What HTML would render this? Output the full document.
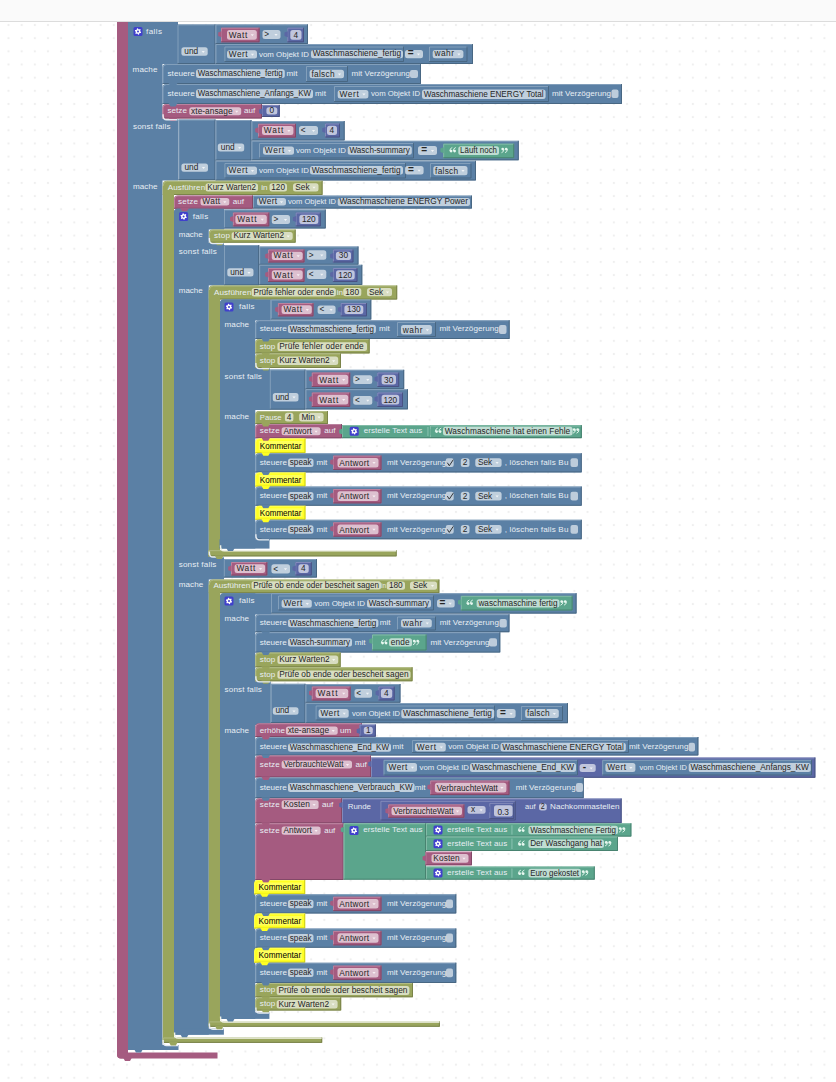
<!DOCTYPE html>
<html><head><meta charset="utf-8"><style>
html,body{margin:0;padding:0;background:#fff;overflow:hidden}
body{width:836px;height:1082px;position:relative}
svg{position:absolute;left:0;top:0}
text{font-family:"Liberation Sans",sans-serif}
</style></head><body>
<svg width="836" height="1082" viewBox="0 0 836 1082">
<defs><pattern id="dots" x="1.92" y="18.42" width="13.16" height="13.16" patternUnits="userSpaceOnUse"><rect x="5.58" y="5.58" width="2" height="2" fill="#efefef"/></pattern></defs>
<rect width="836" height="1082" fill="#fff"/>
<rect y="21" width="836" height="1061" fill="url(#dots)"/>
<path d="M117.0 0.0H128.0V1058.5H121.0Q117.0 1058.5 117.0 1054.5Z" fill="#a55b80"/>
<path d="M117.0 1052.5H217.5V1058.5H121.0Q117.0 1058.5 117.0 1054.5Z" fill="#a55b80"/>
<rect x="128.0" y="0.0" width="34.5" height="1050.0" fill="#5b80a5"/>
<rect x="128.0" y="0.0" width="50.0" height="64.0" fill="#5b80a5"/>
<rect x="128.0" y="119.0" width="50.0" height="61.5" fill="#5b80a5"/>
<rect x="128.0" y="1045.0" width="50.5" height="5.0" fill="#5b80a5"/>
<rect x="177.5" y="24.4" width="38.0" height="39.6" fill="#5b80a5"/>
<path d="M178.0 64.0V24.9H215.5" stroke="#8ca6c0" stroke-width="1" fill="none" opacity="0.8"/>
<path d="M177.5 63.5H215.0V24.4" stroke="#44607b" stroke-width="1" fill="none" opacity="0.8"/>
<rect x="215.5" y="24.4" width="92.5" height="19.6" fill="#5b80a5"/>
<path d="M216.0 44.0V24.9H308.0" stroke="#8ca6c0" stroke-width="1" fill="none" opacity="0.8"/>
<path d="M215.5 43.5H307.5V24.4" stroke="#44607b" stroke-width="1" fill="none" opacity="0.8"/>
<rect x="221.0" y="27.7" width="38.6" height="14.6" fill="#a55b80"/>
<path d="M221.5 42.3V28.2H259.6" stroke="#c08ca6" stroke-width="1" fill="none" opacity="0.8"/>
<path d="M221.0 41.8H259.1V27.7" stroke="#7b4460" stroke-width="1" fill="none" opacity="0.8"/>
<rect x="287.3" y="27.7" width="16.7" height="14.6" fill="#5b67a5"/>
<path d="M287.8 42.3V28.2H304.0" stroke="#8c94c0" stroke-width="1" fill="none" opacity="0.8"/>
<path d="M287.3 41.8H303.5V27.7" stroke="#444d7b" stroke-width="1" fill="none" opacity="0.8"/>
<rect x="215.5" y="44.0" width="257.5" height="20.0" fill="#5b80a5"/>
<path d="M216.0 64.0V44.5H473.0" stroke="#8ca6c0" stroke-width="1" fill="none" opacity="0.8"/>
<path d="M215.5 63.5H472.5V44.0" stroke="#44607b" stroke-width="1" fill="none" opacity="0.8"/>
<rect x="224.4" y="46.5" width="179.6" height="15.5" fill="#5b80a5"/>
<path d="M224.9 62.0V47.0H404.0" stroke="#8ca6c0" stroke-width="1" fill="none" opacity="0.8"/>
<path d="M224.4 61.5H403.5V46.5" stroke="#44607b" stroke-width="1" fill="none" opacity="0.8"/>
<rect x="429.0" y="46.5" width="38.5" height="15.5" fill="#5b80a5"/>
<path d="M429.5 62.0V47.0H467.5" stroke="#8ca6c0" stroke-width="1" fill="none" opacity="0.8"/>
<path d="M429.0 61.5H467.0V46.5" stroke="#44607b" stroke-width="1" fill="none" opacity="0.8"/>
<path d="M162.5 67.5Q162.5 64.0 166.0 64.0H421.0V84.0H162.5Z" fill="#5b80a5"/>
<path d="M163.0 84.0V68.0Q163.0 64.5 166.5 64.5H421.0" stroke="#8ca6c0" stroke-width="1" fill="none" opacity="0.8"/>
<path d="M162.5 83.5H420.5V64.0" stroke="#44607b" stroke-width="1" fill="none" opacity="0.8"/>
<rect x="306.0" y="66.0" width="42.0" height="16.0" fill="#5b80a5"/>
<path d="M306.5 82.0V66.5H348.0" stroke="#8ca6c0" stroke-width="1" fill="none" opacity="0.8"/>
<path d="M306.0 81.5H347.5V66.0" stroke="#44607b" stroke-width="1" fill="none" opacity="0.8"/>
<path d="M162.5 87.5Q162.5 84.0 166.0 84.0H622.0V104.0H162.5Z" fill="#5b80a5"/>
<path d="M163.0 104.0V88.0Q163.0 84.5 166.5 84.5H622.0" stroke="#8ca6c0" stroke-width="1" fill="none" opacity="0.8"/>
<path d="M162.5 103.5H621.5V84.0" stroke="#44607b" stroke-width="1" fill="none" opacity="0.8"/>
<rect x="334.0" y="86.0" width="215.0" height="16.0" fill="#5b80a5"/>
<path d="M334.5 102.0V86.5H549.0" stroke="#8ca6c0" stroke-width="1" fill="none" opacity="0.8"/>
<path d="M334.0 101.5H548.5V86.0" stroke="#44607b" stroke-width="1" fill="none" opacity="0.8"/>
<path d="M162.5 107.5Q162.5 104.0 166.0 104.0H262.0V118.5H162.5Z" fill="#a55b80"/>
<path d="M163.0 118.5V108.0Q163.0 104.5 166.5 104.5H262.0" stroke="#c08ca6" stroke-width="1" fill="none" opacity="0.8"/>
<path d="M162.5 118.0H261.5V104.0" stroke="#7b4460" stroke-width="1" fill="none" opacity="0.8"/>
<rect x="262.0" y="104.9" width="17.8" height="12.1" fill="#5b67a5"/>
<path d="M262.5 117.0V105.4H279.8" stroke="#8c94c0" stroke-width="1" fill="none" opacity="0.8"/>
<path d="M262.0 116.5H279.3V104.9" stroke="#444d7b" stroke-width="1" fill="none" opacity="0.8"/>
<rect x="178.4" y="119.5" width="37.1" height="60.7" fill="#5b80a5"/>
<path d="M178.9 180.2V120.0H215.5" stroke="#8ca6c0" stroke-width="1" fill="none" opacity="0.8"/>
<path d="M178.4 179.7H215.0V119.5" stroke="#44607b" stroke-width="1" fill="none" opacity="0.8"/>
<rect x="215.5" y="120.0" width="36.0" height="40.5" fill="#5b80a5"/>
<path d="M216.0 160.5V120.5H251.5" stroke="#8ca6c0" stroke-width="1" fill="none" opacity="0.8"/>
<path d="M215.5 160.0H251.0V120.0" stroke="#44607b" stroke-width="1" fill="none" opacity="0.8"/>
<rect x="251.5" y="121.0" width="93.2" height="19.5" fill="#5b80a5"/>
<path d="M252.0 140.5V121.5H344.7" stroke="#8ca6c0" stroke-width="1" fill="none" opacity="0.8"/>
<path d="M251.5 140.0H344.2V121.0" stroke="#44607b" stroke-width="1" fill="none" opacity="0.8"/>
<rect x="258.0" y="123.8" width="38.0" height="13.8" fill="#a55b80"/>
<path d="M258.5 137.6V124.3H296.0" stroke="#c08ca6" stroke-width="1" fill="none" opacity="0.8"/>
<path d="M258.0 137.1H295.5V123.8" stroke="#7b4460" stroke-width="1" fill="none" opacity="0.8"/>
<rect x="325.0" y="123.5" width="15.0" height="14.0" fill="#5b67a5"/>
<path d="M325.5 137.5V124.0H340.0" stroke="#8c94c0" stroke-width="1" fill="none" opacity="0.8"/>
<path d="M325.0 137.0H339.5V123.5" stroke="#444d7b" stroke-width="1" fill="none" opacity="0.8"/>
<rect x="251.5" y="140.8" width="267.3" height="19.5" fill="#5b80a5"/>
<path d="M252.0 160.3V141.3H518.8" stroke="#8ca6c0" stroke-width="1" fill="none" opacity="0.8"/>
<path d="M251.5 159.8H518.3V140.8" stroke="#44607b" stroke-width="1" fill="none" opacity="0.8"/>
<rect x="259.0" y="143.0" width="155.0" height="15.5" fill="#5b80a5"/>
<path d="M259.5 158.5V143.5H414.0" stroke="#8ca6c0" stroke-width="1" fill="none" opacity="0.8"/>
<path d="M259.0 158.0H413.5V143.0" stroke="#44607b" stroke-width="1" fill="none" opacity="0.8"/>
<rect x="443.2" y="143.7" width="71.0" height="14.5" fill="#5ba58c"/>
<path d="M443.7 158.2V144.2H514.2" stroke="#8cc0ae" stroke-width="1" fill="none" opacity="0.8"/>
<path d="M443.2 157.7H513.7V143.7" stroke="#447b69" stroke-width="1" fill="none" opacity="0.8"/>
<rect x="215.5" y="160.8" width="260.5" height="19.7" fill="#5b80a5"/>
<path d="M216.0 180.5V161.3H476.0" stroke="#8ca6c0" stroke-width="1" fill="none" opacity="0.8"/>
<path d="M215.5 180.0H475.5V160.8" stroke="#44607b" stroke-width="1" fill="none" opacity="0.8"/>
<rect x="224.4" y="163.0" width="181.6" height="15.5" fill="#5b80a5"/>
<path d="M224.9 178.5V163.5H406.0" stroke="#8ca6c0" stroke-width="1" fill="none" opacity="0.8"/>
<path d="M224.4 178.0H405.5V163.0" stroke="#44607b" stroke-width="1" fill="none" opacity="0.8"/>
<rect x="430.0" y="163.0" width="41.5" height="15.5" fill="#5b80a5"/>
<path d="M430.5 178.5V163.5H471.5" stroke="#8ca6c0" stroke-width="1" fill="none" opacity="0.8"/>
<path d="M430.0 178.0H471.0V163.0" stroke="#44607b" stroke-width="1" fill="none" opacity="0.8"/>
<path d="M162.8 184.8Q162.8 180.8 166.8 180.8H322.6V195.0H162.8Z" fill="#99a55c"/>
<path d="M163.3 195.0V185.3Q163.3 181.3 167.3 181.3H322.6" stroke="#b7c08c" stroke-width="1" fill="none" opacity="0.8"/>
<path d="M162.8 194.5H322.1V180.8" stroke="#727b45" stroke-width="1" fill="none" opacity="0.8"/>
<rect x="162.8" y="186.0" width="11.2" height="856.9" fill="#99a55c"/>
<rect x="162.8" y="1037.5" width="159.4" height="5.4" fill="#99a55c"/>
<path d="M163.3 1042.9V1038.0H322.2" stroke="#b7c08c" stroke-width="1" fill="none" opacity="0.8"/>
<path d="M162.8 1042.4H321.7V1037.5" stroke="#727b45" stroke-width="1" fill="none" opacity="0.8"/>
<path d="M174.0 198.9Q174.0 195.4 177.5 195.4H253.0V208.8H174.0Z" fill="#a55b80"/>
<path d="M174.5 208.8V199.4Q174.5 195.9 178.0 195.9H253.0" stroke="#c08ca6" stroke-width="1" fill="none" opacity="0.8"/>
<path d="M174.0 208.3H252.5V195.4" stroke="#7b4460" stroke-width="1" fill="none" opacity="0.8"/>
<rect x="253.0" y="195.6" width="219.0" height="13.0" fill="#5b80a5"/>
<path d="M253.5 208.6V196.1H472.0" stroke="#8ca6c0" stroke-width="1" fill="none" opacity="0.8"/>
<path d="M253.0 208.1H471.5V195.6" stroke="#44607b" stroke-width="1" fill="none" opacity="0.8"/>
<path d="M174.0 212.3Q174.0 208.8 177.5 208.8H208.8V1034.7H174.0Z" fill="#5b80a5"/>
<path d="M174.0 212.3Q174.0 208.8 177.5 208.8H224.0V229.5H174.0Z" fill="#5b80a5"/>
<rect x="174.0" y="243.0" width="50.0" height="42.4" fill="#5b80a5"/>
<rect x="174.0" y="556.4" width="50.0" height="23.1" fill="#5b80a5"/>
<rect x="174.0" y="1028.6" width="49.9" height="6.1" fill="#5b80a5"/>
<rect x="224.0" y="209.5" width="101.8" height="19.0" fill="#5b80a5"/>
<path d="M224.5 228.5V210.0H325.8" stroke="#8ca6c0" stroke-width="1" fill="none" opacity="0.8"/>
<path d="M224.0 228.0H325.3V209.5" stroke="#44607b" stroke-width="1" fill="none" opacity="0.8"/>
<rect x="232.9" y="212.5" width="36.4" height="13.9" fill="#a55b80"/>
<path d="M233.4 226.4V213.0H269.3" stroke="#c08ca6" stroke-width="1" fill="none" opacity="0.8"/>
<path d="M232.9 225.9H268.8V212.5" stroke="#7b4460" stroke-width="1" fill="none" opacity="0.8"/>
<rect x="295.7" y="212.5" width="25.1" height="13.9" fill="#5b67a5"/>
<path d="M296.2 226.4V213.0H320.8" stroke="#8c94c0" stroke-width="1" fill="none" opacity="0.8"/>
<path d="M295.7 225.9H320.3V212.5" stroke="#444d7b" stroke-width="1" fill="none" opacity="0.8"/>
<path d="M209.0 233.1Q209.0 229.6 212.5 229.6H295.7V242.7H209.0Z" fill="#99a55c"/>
<path d="M209.5 242.7V233.6Q209.5 230.1 213.0 230.1H295.7" stroke="#b7c08c" stroke-width="1" fill="none" opacity="0.8"/>
<path d="M209.0 242.2H295.2V229.6" stroke="#727b45" stroke-width="1" fill="none" opacity="0.8"/>
<rect x="224.0" y="245.0" width="35.2" height="40.4" fill="#5b80a5"/>
<path d="M224.5 285.4V245.5H259.2" stroke="#8ca6c0" stroke-width="1" fill="none" opacity="0.8"/>
<path d="M224.0 284.9H258.7V245.0" stroke="#44607b" stroke-width="1" fill="none" opacity="0.8"/>
<rect x="259.2" y="246.5" width="99.3" height="18.3" fill="#5b80a5"/>
<path d="M259.7 264.8V247.0H358.5" stroke="#8ca6c0" stroke-width="1" fill="none" opacity="0.8"/>
<path d="M259.2 264.3H358.0V246.5" stroke="#44607b" stroke-width="1" fill="none" opacity="0.8"/>
<rect x="268.0" y="249.5" width="36.5" height="13.0" fill="#a55b80"/>
<path d="M268.5 262.5V250.0H304.5" stroke="#c08ca6" stroke-width="1" fill="none" opacity="0.8"/>
<path d="M268.0 262.0H304.0V249.5" stroke="#7b4460" stroke-width="1" fill="none" opacity="0.8"/>
<rect x="332.9" y="249.5" width="20.6" height="13.0" fill="#5b67a5"/>
<path d="M333.4 262.5V250.0H353.5" stroke="#8c94c0" stroke-width="1" fill="none" opacity="0.8"/>
<path d="M332.9 262.0H353.0V249.5" stroke="#444d7b" stroke-width="1" fill="none" opacity="0.8"/>
<rect x="259.2" y="264.8" width="103.1" height="20.2" fill="#5b80a5"/>
<path d="M259.7 285.0V265.3H362.3" stroke="#8ca6c0" stroke-width="1" fill="none" opacity="0.8"/>
<path d="M259.2 284.5H361.8V264.8" stroke="#44607b" stroke-width="1" fill="none" opacity="0.8"/>
<rect x="268.0" y="268.0" width="36.5" height="14.0" fill="#a55b80"/>
<path d="M268.5 282.0V268.5H304.5" stroke="#c08ca6" stroke-width="1" fill="none" opacity="0.8"/>
<path d="M268.0 281.5H304.0V268.0" stroke="#7b4460" stroke-width="1" fill="none" opacity="0.8"/>
<rect x="332.9" y="268.0" width="24.6" height="14.0" fill="#5b67a5"/>
<path d="M333.4 282.0V268.5H357.5" stroke="#8c94c0" stroke-width="1" fill="none" opacity="0.8"/>
<path d="M332.9 281.5H357.0V268.0" stroke="#444d7b" stroke-width="1" fill="none" opacity="0.8"/>
<path d="M208.8 289.5Q208.8 285.5 212.8 285.5H397.2V299.6H208.8Z" fill="#99a55c"/>
<path d="M209.3 299.6V290.0Q209.3 286.0 213.3 286.0H397.2" stroke="#b7c08c" stroke-width="1" fill="none" opacity="0.8"/>
<path d="M208.8 299.1H396.7V285.5" stroke="#727b45" stroke-width="1" fill="none" opacity="0.8"/>
<rect x="208.8" y="290.0" width="11.2" height="266.4" fill="#99a55c"/>
<rect x="208.2" y="550.2" width="188.5" height="6.2" fill="#99a55c"/>
<path d="M208.7 556.4V550.7H396.7" stroke="#b7c08c" stroke-width="1" fill="none" opacity="0.8"/>
<path d="M208.2 555.9H396.2V550.2" stroke="#727b45" stroke-width="1" fill="none" opacity="0.8"/>
<path d="M220.0 303.1Q220.0 299.6 223.5 299.6H255.3V548.6H220.0Z" fill="#5b80a5"/>
<path d="M220.0 303.1Q220.0 299.6 223.5 299.6H270.8V320.5H220.0Z" fill="#5b80a5"/>
<rect x="220.0" y="368.0" width="50.0" height="42.0" fill="#5b80a5"/>
<rect x="219.5" y="539.3" width="50.0" height="9.3" fill="#5b80a5"/>
<rect x="270.8" y="299.6" width="100.5" height="20.0" fill="#5b80a5"/>
<path d="M271.3 319.6V300.1H371.3" stroke="#8ca6c0" stroke-width="1" fill="none" opacity="0.8"/>
<path d="M270.8 319.1H370.8V299.6" stroke="#44607b" stroke-width="1" fill="none" opacity="0.8"/>
<rect x="277.9" y="303.0" width="35.6" height="13.4" fill="#a55b80"/>
<path d="M278.4 316.4V303.5H313.5" stroke="#c08ca6" stroke-width="1" fill="none" opacity="0.8"/>
<path d="M277.9 315.9H313.0V303.0" stroke="#7b4460" stroke-width="1" fill="none" opacity="0.8"/>
<rect x="340.7" y="303.0" width="26.3" height="13.4" fill="#5b67a5"/>
<path d="M341.2 316.4V303.5H367.0" stroke="#8c94c0" stroke-width="1" fill="none" opacity="0.8"/>
<path d="M340.7 315.9H366.5V303.0" stroke="#444d7b" stroke-width="1" fill="none" opacity="0.8"/>
<path d="M255.3 323.7Q255.3 320.2 258.8 320.2H509.7V339.0H255.3Z" fill="#5b80a5"/>
<path d="M255.8 339.0V324.2Q255.8 320.7 259.3 320.7H509.7" stroke="#8ca6c0" stroke-width="1" fill="none" opacity="0.8"/>
<path d="M255.3 338.5H509.2V320.2" stroke="#44607b" stroke-width="1" fill="none" opacity="0.8"/>
<rect x="397.0" y="322.0" width="39.0" height="15.0" fill="#5b80a5"/>
<path d="M397.5 337.0V322.5H436.0" stroke="#8ca6c0" stroke-width="1" fill="none" opacity="0.8"/>
<path d="M397.0 336.5H435.5V322.0" stroke="#44607b" stroke-width="1" fill="none" opacity="0.8"/>
<path d="M255.3 342.5Q255.3 339.0 258.8 339.0H369.7V353.4H255.3Z" fill="#99a55c"/>
<path d="M255.8 353.4V343.0Q255.8 339.5 259.3 339.5H369.7" stroke="#b7c08c" stroke-width="1" fill="none" opacity="0.8"/>
<path d="M255.3 352.9H369.2V339.0" stroke="#727b45" stroke-width="1" fill="none" opacity="0.8"/>
<path d="M255.3 356.9Q255.3 353.4 258.8 353.4H341.0V368.0H255.3Z" fill="#99a55c"/>
<path d="M255.8 368.0V357.4Q255.8 353.9 259.3 353.9H341.0" stroke="#b7c08c" stroke-width="1" fill="none" opacity="0.8"/>
<path d="M255.3 367.5H340.5V353.4" stroke="#727b45" stroke-width="1" fill="none" opacity="0.8"/>
<rect x="269.8" y="369.5" width="35.7" height="40.2" fill="#5b80a5"/>
<path d="M270.3 409.7V370.0H305.5" stroke="#8ca6c0" stroke-width="1" fill="none" opacity="0.8"/>
<path d="M269.8 409.2H305.0V369.5" stroke="#44607b" stroke-width="1" fill="none" opacity="0.8"/>
<rect x="305.5" y="369.8" width="98.7" height="19.4" fill="#5b80a5"/>
<path d="M306.0 389.2V370.3H404.2" stroke="#8ca6c0" stroke-width="1" fill="none" opacity="0.8"/>
<path d="M305.5 388.7H403.7V369.8" stroke="#44607b" stroke-width="1" fill="none" opacity="0.8"/>
<rect x="311.8" y="372.5" width="38.4" height="14.5" fill="#a55b80"/>
<path d="M312.3 387.0V373.0H350.2" stroke="#c08ca6" stroke-width="1" fill="none" opacity="0.8"/>
<path d="M311.8 386.5H349.7V372.5" stroke="#7b4460" stroke-width="1" fill="none" opacity="0.8"/>
<rect x="377.3" y="372.5" width="21.9" height="14.5" fill="#5b67a5"/>
<path d="M377.8 387.0V373.0H399.2" stroke="#8c94c0" stroke-width="1" fill="none" opacity="0.8"/>
<path d="M377.3 386.5H398.7V372.5" stroke="#444d7b" stroke-width="1" fill="none" opacity="0.8"/>
<rect x="305.5" y="389.2" width="102.5" height="20.2" fill="#5b80a5"/>
<path d="M306.0 409.4V389.7H408.0" stroke="#8ca6c0" stroke-width="1" fill="none" opacity="0.8"/>
<path d="M305.5 408.9H407.5V389.2" stroke="#44607b" stroke-width="1" fill="none" opacity="0.8"/>
<rect x="311.8" y="392.5" width="38.4" height="14.5" fill="#a55b80"/>
<path d="M312.3 407.0V393.0H350.2" stroke="#c08ca6" stroke-width="1" fill="none" opacity="0.8"/>
<path d="M311.8 406.5H349.7V392.5" stroke="#7b4460" stroke-width="1" fill="none" opacity="0.8"/>
<rect x="377.3" y="392.5" width="25.7" height="14.5" fill="#5b67a5"/>
<path d="M377.8 407.0V393.0H403.0" stroke="#8c94c0" stroke-width="1" fill="none" opacity="0.8"/>
<path d="M377.3 406.5H402.5V392.5" stroke="#444d7b" stroke-width="1" fill="none" opacity="0.8"/>
<path d="M255.3 414.5Q255.3 411.0 258.8 411.0H328.0V424.0H255.3Z" fill="#99a55c"/>
<path d="M255.8 424.0V415.0Q255.8 411.5 259.3 411.5H328.0" stroke="#b7c08c" stroke-width="1" fill="none" opacity="0.8"/>
<path d="M255.3 423.5H327.5V411.0" stroke="#727b45" stroke-width="1" fill="none" opacity="0.8"/>
<path d="M255.3 427.5Q255.3 424.0 258.8 424.0H342.0V438.3H255.3Z" fill="#a55b80"/>
<path d="M255.8 438.3V428.0Q255.8 424.5 259.3 424.5H342.0" stroke="#c08ca6" stroke-width="1" fill="none" opacity="0.8"/>
<path d="M255.3 437.8H341.5V424.0" stroke="#7b4460" stroke-width="1" fill="none" opacity="0.8"/>
<rect x="342.0" y="425.0" width="239.8" height="13.2" fill="#5ba58c"/>
<path d="M342.5 438.2V425.5H581.8" stroke="#8cc0ae" stroke-width="1" fill="none" opacity="0.8"/>
<path d="M342.0 437.7H581.3V425.0" stroke="#447b69" stroke-width="1" fill="none" opacity="0.8"/>
<rect x="430.0" y="425.5" width="151.8" height="12.5" fill="#5ba58c"/>
<path d="M430.5 438.0V426.0H581.8" stroke="#8cc0ae" stroke-width="1" fill="none" opacity="0.8"/>
<path d="M430.0 437.5H581.3V425.5" stroke="#447b69" stroke-width="1" fill="none" opacity="0.8"/>
<path d="M255.3 441.9Q255.3 438.4 258.8 438.4H305.5V453.2H255.3Z" fill="#ffff22"/>
<path d="M255.8 453.2V442.4Q255.8 438.9 259.3 438.9H305.5" stroke="#ffff64" stroke-width="1" fill="none" opacity="0.8"/>
<path d="M255.3 452.7H305.0V438.4" stroke="#bfbf19" stroke-width="1" fill="none" opacity="0.8"/>
<path d="M255.3 456.7Q255.3 453.2 258.8 453.2H581.8V472.4H255.3Z" fill="#5b80a5"/>
<path d="M255.8 472.4V457.2Q255.8 453.7 259.3 453.7H581.8" stroke="#8ca6c0" stroke-width="1" fill="none" opacity="0.8"/>
<path d="M255.3 471.9H581.3V453.2" stroke="#44607b" stroke-width="1" fill="none" opacity="0.8"/>
<rect x="333.0" y="455.6" width="48.5" height="14.4" fill="#a55b80"/>
<path d="M333.5 470.0V456.1H381.5" stroke="#c08ca6" stroke-width="1" fill="none" opacity="0.8"/>
<path d="M333.0 469.5H381.0V455.6" stroke="#7b4460" stroke-width="1" fill="none" opacity="0.8"/>
<path d="M255.3 475.9Q255.3 472.4 258.8 472.4H305.5V486.6H255.3Z" fill="#ffff22"/>
<path d="M255.8 486.6V476.4Q255.8 472.9 259.3 472.9H305.5" stroke="#ffff64" stroke-width="1" fill="none" opacity="0.8"/>
<path d="M255.3 486.1H305.0V472.4" stroke="#bfbf19" stroke-width="1" fill="none" opacity="0.8"/>
<path d="M255.3 490.1Q255.3 486.6 258.8 486.6H581.8V505.8H255.3Z" fill="#5b80a5"/>
<path d="M255.8 505.8V490.6Q255.8 487.1 259.3 487.1H581.8" stroke="#8ca6c0" stroke-width="1" fill="none" opacity="0.8"/>
<path d="M255.3 505.3H581.3V486.6" stroke="#44607b" stroke-width="1" fill="none" opacity="0.8"/>
<rect x="333.0" y="489.0" width="48.5" height="14.4" fill="#a55b80"/>
<path d="M333.5 503.4V489.5H381.5" stroke="#c08ca6" stroke-width="1" fill="none" opacity="0.8"/>
<path d="M333.0 502.9H381.0V489.0" stroke="#7b4460" stroke-width="1" fill="none" opacity="0.8"/>
<path d="M255.3 509.3Q255.3 505.8 258.8 505.8H305.5V519.8H255.3Z" fill="#ffff22"/>
<path d="M255.8 519.8V509.8Q255.8 506.3 259.3 506.3H305.5" stroke="#ffff64" stroke-width="1" fill="none" opacity="0.8"/>
<path d="M255.3 519.3H305.0V505.8" stroke="#bfbf19" stroke-width="1" fill="none" opacity="0.8"/>
<path d="M255.3 523.3Q255.3 519.8 258.8 519.8H581.8V539.3H255.3Z" fill="#5b80a5"/>
<path d="M255.8 539.3V523.8Q255.8 520.3 259.3 520.3H581.8" stroke="#8ca6c0" stroke-width="1" fill="none" opacity="0.8"/>
<path d="M255.3 538.8H581.3V519.8" stroke="#44607b" stroke-width="1" fill="none" opacity="0.8"/>
<rect x="333.0" y="522.3" width="48.5" height="14.4" fill="#a55b80"/>
<path d="M333.5 536.8V522.8H381.5" stroke="#c08ca6" stroke-width="1" fill="none" opacity="0.8"/>
<path d="M333.0 536.2H381.0V522.3" stroke="#7b4460" stroke-width="1" fill="none" opacity="0.8"/>
<rect x="223.8" y="559.0" width="93.2" height="18.6" fill="#5b80a5"/>
<path d="M224.3 577.6V559.5H317.0" stroke="#8ca6c0" stroke-width="1" fill="none" opacity="0.8"/>
<path d="M223.8 577.1H316.5V559.0" stroke="#44607b" stroke-width="1" fill="none" opacity="0.8"/>
<rect x="231.0" y="562.0" width="36.3" height="13.5" fill="#a55b80"/>
<path d="M231.5 575.5V562.5H267.3" stroke="#c08ca6" stroke-width="1" fill="none" opacity="0.8"/>
<path d="M231.0 575.0H266.8V562.0" stroke="#7b4460" stroke-width="1" fill="none" opacity="0.8"/>
<rect x="295.3" y="562.0" width="16.5" height="13.5" fill="#5b67a5"/>
<path d="M295.8 575.5V562.5H311.8" stroke="#8c94c0" stroke-width="1" fill="none" opacity="0.8"/>
<path d="M295.3 575.0H311.3V562.0" stroke="#444d7b" stroke-width="1" fill="none" opacity="0.8"/>
<path d="M208.8 583.6Q208.8 579.6 212.8 579.6H439.4V593.2H208.8Z" fill="#99a55c"/>
<path d="M209.3 593.2V584.1Q209.3 580.1 213.3 580.1H439.4" stroke="#b7c08c" stroke-width="1" fill="none" opacity="0.8"/>
<path d="M208.8 592.7H438.9V579.6" stroke="#727b45" stroke-width="1" fill="none" opacity="0.8"/>
<rect x="208.8" y="585.0" width="11.2" height="441.8" fill="#99a55c"/>
<rect x="208.8" y="1021.4" width="231.1" height="5.4" fill="#99a55c"/>
<path d="M209.3 1026.8V1021.9H439.9" stroke="#b7c08c" stroke-width="1" fill="none" opacity="0.8"/>
<path d="M208.8 1026.3H439.4V1021.4" stroke="#727b45" stroke-width="1" fill="none" opacity="0.8"/>
<path d="M220.0 596.7Q220.0 593.2 223.5 593.2H255.3V1018.9H220.0Z" fill="#5b80a5"/>
<path d="M220.0 596.7Q220.0 593.2 223.5 593.2H271.0V614.5H220.0Z" fill="#5b80a5"/>
<rect x="220.0" y="681.3" width="50.8" height="43.7" fill="#5b80a5"/>
<rect x="220.0" y="1012.4" width="49.4" height="6.5" fill="#5b80a5"/>
<rect x="271.0" y="593.2" width="305.6" height="20.4" fill="#5b80a5"/>
<path d="M271.5 613.6V593.7H576.6" stroke="#8ca6c0" stroke-width="1" fill="none" opacity="0.8"/>
<path d="M271.0 613.1H576.1V593.2" stroke="#44607b" stroke-width="1" fill="none" opacity="0.8"/>
<rect x="278.0" y="595.5" width="156.0" height="15.0" fill="#5b80a5"/>
<path d="M278.5 610.5V596.0H434.0" stroke="#8ca6c0" stroke-width="1" fill="none" opacity="0.8"/>
<path d="M278.0 610.0H433.5V595.5" stroke="#44607b" stroke-width="1" fill="none" opacity="0.8"/>
<rect x="460.8" y="595.8" width="111.8" height="14.7" fill="#5ba58c"/>
<path d="M461.3 610.5V596.3H572.6" stroke="#8cc0ae" stroke-width="1" fill="none" opacity="0.8"/>
<path d="M460.8 610.0H572.1V595.8" stroke="#447b69" stroke-width="1" fill="none" opacity="0.8"/>
<path d="M255.3 617.7Q255.3 614.2 258.8 614.2H509.5V632.2H255.3Z" fill="#5b80a5"/>
<path d="M255.8 632.2V618.2Q255.8 614.7 259.3 614.7H509.5" stroke="#8ca6c0" stroke-width="1" fill="none" opacity="0.8"/>
<path d="M255.3 631.7H509.0V614.2" stroke="#44607b" stroke-width="1" fill="none" opacity="0.8"/>
<rect x="397.0" y="616.5" width="39.0" height="14.0" fill="#5b80a5"/>
<path d="M397.5 630.5V617.0H436.0" stroke="#8ca6c0" stroke-width="1" fill="none" opacity="0.8"/>
<path d="M397.0 630.0H435.5V616.5" stroke="#44607b" stroke-width="1" fill="none" opacity="0.8"/>
<path d="M255.3 635.7Q255.3 632.2 258.8 632.2H500.3V652.6H255.3Z" fill="#5b80a5"/>
<path d="M255.8 652.6V636.2Q255.8 632.7 259.3 632.7H500.3" stroke="#8ca6c0" stroke-width="1" fill="none" opacity="0.8"/>
<path d="M255.3 652.1H499.8V632.2" stroke="#44607b" stroke-width="1" fill="none" opacity="0.8"/>
<rect x="372.0" y="634.5" width="54.6" height="16.0" fill="#5ba58c"/>
<path d="M372.5 650.5V635.0H426.6" stroke="#8cc0ae" stroke-width="1" fill="none" opacity="0.8"/>
<path d="M372.0 650.0H426.1V634.5" stroke="#447b69" stroke-width="1" fill="none" opacity="0.8"/>
<path d="M255.3 656.1Q255.3 652.6 258.8 652.6H340.7V667.3H255.3Z" fill="#99a55c"/>
<path d="M255.8 667.3V656.6Q255.8 653.1 259.3 653.1H340.7" stroke="#b7c08c" stroke-width="1" fill="none" opacity="0.8"/>
<path d="M255.3 666.8H340.2V652.6" stroke="#727b45" stroke-width="1" fill="none" opacity="0.8"/>
<path d="M255.3 670.8Q255.3 667.3 258.8 667.3H412.6V681.3H255.3Z" fill="#99a55c"/>
<path d="M255.8 681.3V671.3Q255.8 667.8 259.3 667.8H412.6" stroke="#b7c08c" stroke-width="1" fill="none" opacity="0.8"/>
<path d="M255.3 680.8H412.1V667.3" stroke="#727b45" stroke-width="1" fill="none" opacity="0.8"/>
<rect x="270.8" y="683.8" width="34.7" height="39.2" fill="#5b80a5"/>
<path d="M271.3 723.0V684.3H305.5" stroke="#8ca6c0" stroke-width="1" fill="none" opacity="0.8"/>
<path d="M270.8 722.5H305.0V683.8" stroke="#44607b" stroke-width="1" fill="none" opacity="0.8"/>
<rect x="305.5" y="684.0" width="95.0" height="18.8" fill="#5b80a5"/>
<path d="M306.0 702.8V684.5H400.5" stroke="#8ca6c0" stroke-width="1" fill="none" opacity="0.8"/>
<path d="M305.5 702.3H400.0V684.0" stroke="#44607b" stroke-width="1" fill="none" opacity="0.8"/>
<rect x="311.8" y="686.5" width="38.9" height="14.0" fill="#a55b80"/>
<path d="M312.3 700.5V687.0H350.7" stroke="#c08ca6" stroke-width="1" fill="none" opacity="0.8"/>
<path d="M311.8 700.0H350.2V686.5" stroke="#7b4460" stroke-width="1" fill="none" opacity="0.8"/>
<rect x="378.4" y="686.5" width="16.3" height="14.0" fill="#5b67a5"/>
<path d="M378.9 700.5V687.0H394.7" stroke="#8c94c0" stroke-width="1" fill="none" opacity="0.8"/>
<path d="M378.4 700.0H394.2V686.5" stroke="#444d7b" stroke-width="1" fill="none" opacity="0.8"/>
<rect x="305.5" y="703.0" width="262.5" height="20.2" fill="#5b80a5"/>
<path d="M306.0 723.2V703.5H568.0" stroke="#8ca6c0" stroke-width="1" fill="none" opacity="0.8"/>
<path d="M305.5 722.7H567.5V703.0" stroke="#44607b" stroke-width="1" fill="none" opacity="0.8"/>
<rect x="315.6" y="705.5" width="179.4" height="15.0" fill="#5b80a5"/>
<path d="M316.1 720.5V706.0H495.0" stroke="#8ca6c0" stroke-width="1" fill="none" opacity="0.8"/>
<path d="M315.6 720.0H494.5V705.5" stroke="#44607b" stroke-width="1" fill="none" opacity="0.8"/>
<rect x="521.0" y="706.0" width="42.0" height="15.0" fill="#5b80a5"/>
<path d="M521.5 721.0V706.5H563.0" stroke="#8ca6c0" stroke-width="1" fill="none" opacity="0.8"/>
<path d="M521.0 720.5H562.5V706.0" stroke="#44607b" stroke-width="1" fill="none" opacity="0.8"/>
<path d="M255.3 726.8Q255.3 723.3 258.8 723.3H362.0V737.0H255.3Z" fill="#a55b80"/>
<path d="M255.8 737.0V727.3Q255.8 723.8 259.3 723.8H362.0" stroke="#c08ca6" stroke-width="1" fill="none" opacity="0.8"/>
<path d="M255.3 736.5H361.5V723.3" stroke="#7b4460" stroke-width="1" fill="none" opacity="0.8"/>
<rect x="359.5" y="724.5" width="16.4" height="12.3" fill="#5b67a5"/>
<path d="M360.0 736.8V725.0H375.9" stroke="#8c94c0" stroke-width="1" fill="none" opacity="0.8"/>
<path d="M359.5 736.3H375.4V724.5" stroke="#444d7b" stroke-width="1" fill="none" opacity="0.8"/>
<path d="M255.3 740.5Q255.3 737.0 258.8 737.0H698.4V755.5H255.3Z" fill="#5b80a5"/>
<path d="M255.8 755.5V741.0Q255.8 737.5 259.3 737.5H698.4" stroke="#8ca6c0" stroke-width="1" fill="none" opacity="0.8"/>
<path d="M255.3 755.0H697.9V737.0" stroke="#44607b" stroke-width="1" fill="none" opacity="0.8"/>
<rect x="412.0" y="740.0" width="217.0" height="13.0" fill="#5b80a5"/>
<path d="M412.5 753.0V740.5H629.0" stroke="#8ca6c0" stroke-width="1" fill="none" opacity="0.8"/>
<path d="M412.0 752.5H628.5V740.0" stroke="#44607b" stroke-width="1" fill="none" opacity="0.8"/>
<path d="M255.3 759.0Q255.3 755.5 258.8 755.5H371.0V777.4H255.3Z" fill="#a55b80"/>
<path d="M255.8 777.4V759.5Q255.8 756.0 259.3 756.0H371.0" stroke="#c08ca6" stroke-width="1" fill="none" opacity="0.8"/>
<path d="M255.3 776.9H370.5V755.5" stroke="#7b4460" stroke-width="1" fill="none" opacity="0.8"/>
<rect x="371.0" y="757.5" width="444.4" height="20.3" fill="#5b67a5"/>
<path d="M371.5 777.8V758.0H815.4" stroke="#8c94c0" stroke-width="1" fill="none" opacity="0.8"/>
<path d="M371.0 777.3H814.9V757.5" stroke="#444d7b" stroke-width="1" fill="none" opacity="0.8"/>
<rect x="383.5" y="759.8" width="194.5" height="15.7" fill="#5b80a5"/>
<path d="M384.0 775.5V760.3H578.0" stroke="#8ca6c0" stroke-width="1" fill="none" opacity="0.8"/>
<path d="M383.5 775.0H577.5V759.8" stroke="#44607b" stroke-width="1" fill="none" opacity="0.8"/>
<rect x="602.2" y="759.8" width="209.8" height="15.7" fill="#5b80a5"/>
<path d="M602.7 775.5V760.3H812.0" stroke="#8ca6c0" stroke-width="1" fill="none" opacity="0.8"/>
<path d="M602.2 775.0H811.5V759.8" stroke="#44607b" stroke-width="1" fill="none" opacity="0.8"/>
<path d="M255.3 780.9Q255.3 777.4 258.8 777.4H583.8V798.2H255.3Z" fill="#5b80a5"/>
<path d="M255.8 798.2V781.4Q255.8 777.9 259.3 777.9H583.8" stroke="#8ca6c0" stroke-width="1" fill="none" opacity="0.8"/>
<path d="M255.3 797.7H583.3V777.4" stroke="#44607b" stroke-width="1" fill="none" opacity="0.8"/>
<rect x="430.2" y="780.5" width="79.3" height="14.6" fill="#a55b80"/>
<path d="M430.7 795.1V781.0H509.5" stroke="#c08ca6" stroke-width="1" fill="none" opacity="0.8"/>
<path d="M430.2 794.6H509.0V780.5" stroke="#7b4460" stroke-width="1" fill="none" opacity="0.8"/>
<path d="M255.3 801.7Q255.3 798.2 258.8 798.2H342.0V823.3H255.3Z" fill="#a55b80"/>
<path d="M255.8 823.3V802.2Q255.8 798.7 259.3 798.7H342.0" stroke="#c08ca6" stroke-width="1" fill="none" opacity="0.8"/>
<path d="M255.3 822.8H341.5V798.2" stroke="#7b4460" stroke-width="1" fill="none" opacity="0.8"/>
<rect x="342.0" y="798.5" width="279.7" height="24.8" fill="#5b67a5"/>
<path d="M342.5 823.3V799.0H621.7" stroke="#8c94c0" stroke-width="1" fill="none" opacity="0.8"/>
<path d="M342.0 822.8H621.2V798.5" stroke="#444d7b" stroke-width="1" fill="none" opacity="0.8"/>
<rect x="380.4" y="800.8" width="135.4" height="19.7" fill="#5b67a5"/>
<path d="M380.9 820.5V801.3H515.8" stroke="#8c94c0" stroke-width="1" fill="none" opacity="0.8"/>
<path d="M380.4 820.0H515.3V800.8" stroke="#444d7b" stroke-width="1" fill="none" opacity="0.8"/>
<rect x="388.2" y="804.4" width="76.2" height="13.4" fill="#a55b80"/>
<path d="M388.7 817.8V804.9H464.4" stroke="#c08ca6" stroke-width="1" fill="none" opacity="0.8"/>
<path d="M388.2 817.3H463.9V804.4" stroke="#7b4460" stroke-width="1" fill="none" opacity="0.8"/>
<rect x="489.3" y="802.9" width="24.9" height="16.1" fill="#5b67a5"/>
<path d="M489.8 819.0V803.4H514.2" stroke="#8c94c0" stroke-width="1" fill="none" opacity="0.8"/>
<path d="M489.3 818.5H513.7V802.9" stroke="#444d7b" stroke-width="1" fill="none" opacity="0.8"/>
<path d="M255.3 826.8Q255.3 823.3 258.8 823.3H343.6V880.0H255.3Z" fill="#a55b80"/>
<path d="M255.8 880.0V827.3Q255.8 823.8 259.3 823.8H343.6" stroke="#c08ca6" stroke-width="1" fill="none" opacity="0.8"/>
<path d="M255.3 879.5H343.1V823.3" stroke="#7b4460" stroke-width="1" fill="none" opacity="0.8"/>
<rect x="343.6" y="823.3" width="82.4" height="56.4" fill="#5ba58c"/>
<path d="M344.1 879.7V823.8H426.0" stroke="#8cc0ae" stroke-width="1" fill="none" opacity="0.8"/>
<path d="M343.6 879.2H425.5V823.3" stroke="#447b69" stroke-width="1" fill="none" opacity="0.8"/>
<rect x="426.0" y="823.3" width="205.4" height="13.3" fill="#5ba58c"/>
<path d="M426.5 836.6V823.8H631.4" stroke="#8cc0ae" stroke-width="1" fill="none" opacity="0.8"/>
<path d="M426.0 836.1H630.9V823.3" stroke="#447b69" stroke-width="1" fill="none" opacity="0.8"/>
<rect x="426.0" y="836.6" width="192.0" height="14.4" fill="#5ba58c"/>
<path d="M426.5 851.0V837.1H618.0" stroke="#8cc0ae" stroke-width="1" fill="none" opacity="0.8"/>
<path d="M426.0 850.5H617.5V836.6" stroke="#447b69" stroke-width="1" fill="none" opacity="0.8"/>
<rect x="425.4" y="851.7" width="46.6" height="13.6" fill="#a55b80"/>
<path d="M425.9 865.3V852.2H472.0" stroke="#c08ca6" stroke-width="1" fill="none" opacity="0.8"/>
<path d="M425.4 864.8H471.5V851.7" stroke="#7b4460" stroke-width="1" fill="none" opacity="0.8"/>
<rect x="426.0" y="866.5" width="168.8" height="13.2" fill="#5ba58c"/>
<path d="M426.5 879.7V867.0H594.8" stroke="#8cc0ae" stroke-width="1" fill="none" opacity="0.8"/>
<path d="M426.0 879.2H594.3V866.5" stroke="#447b69" stroke-width="1" fill="none" opacity="0.8"/>
<path d="M254.1 883.5Q254.1 880.0 257.6 880.0H305.2V894.3H254.1Z" fill="#ffff22"/>
<path d="M254.6 894.3V884.0Q254.6 880.5 258.1 880.5H305.2" stroke="#ffff64" stroke-width="1" fill="none" opacity="0.8"/>
<path d="M254.1 893.8H304.7V880.0" stroke="#bfbf19" stroke-width="1" fill="none" opacity="0.8"/>
<path d="M255.3 897.8Q255.3 894.3 258.8 894.3H456.3V913.5H255.3Z" fill="#5b80a5"/>
<path d="M255.8 913.5V898.3Q255.8 894.8 259.3 894.8H456.3" stroke="#8ca6c0" stroke-width="1" fill="none" opacity="0.8"/>
<path d="M255.3 913.0H455.8V894.3" stroke="#44607b" stroke-width="1" fill="none" opacity="0.8"/>
<rect x="333.0" y="896.7" width="48.5" height="14.4" fill="#a55b80"/>
<path d="M333.5 911.1V897.2H381.5" stroke="#c08ca6" stroke-width="1" fill="none" opacity="0.8"/>
<path d="M333.0 910.6H381.0V896.7" stroke="#7b4460" stroke-width="1" fill="none" opacity="0.8"/>
<path d="M254.1 917.0Q254.1 913.5 257.6 913.5H305.2V928.5H254.1Z" fill="#ffff22"/>
<path d="M254.6 928.5V917.5Q254.6 914.0 258.1 914.0H305.2" stroke="#ffff64" stroke-width="1" fill="none" opacity="0.8"/>
<path d="M254.1 928.0H304.7V913.5" stroke="#bfbf19" stroke-width="1" fill="none" opacity="0.8"/>
<path d="M255.3 932.0Q255.3 928.5 258.8 928.5H456.3V947.8H255.3Z" fill="#5b80a5"/>
<path d="M255.8 947.8V932.5Q255.8 929.0 259.3 929.0H456.3" stroke="#8ca6c0" stroke-width="1" fill="none" opacity="0.8"/>
<path d="M255.3 947.3H455.8V928.5" stroke="#44607b" stroke-width="1" fill="none" opacity="0.8"/>
<rect x="333.0" y="930.9" width="48.5" height="14.4" fill="#a55b80"/>
<path d="M333.5 945.4V931.4H381.5" stroke="#c08ca6" stroke-width="1" fill="none" opacity="0.8"/>
<path d="M333.0 944.9H381.0V930.9" stroke="#7b4460" stroke-width="1" fill="none" opacity="0.8"/>
<path d="M254.1 951.3Q254.1 947.8 257.6 947.8H305.2V962.7H254.1Z" fill="#ffff22"/>
<path d="M254.6 962.7V951.8Q254.6 948.3 258.1 948.3H305.2" stroke="#ffff64" stroke-width="1" fill="none" opacity="0.8"/>
<path d="M254.1 962.2H304.7V947.8" stroke="#bfbf19" stroke-width="1" fill="none" opacity="0.8"/>
<path d="M255.3 966.2Q255.3 962.7 258.8 962.7H456.3V983.0H255.3Z" fill="#5b80a5"/>
<path d="M255.8 983.0V966.7Q255.8 963.2 259.3 963.2H456.3" stroke="#8ca6c0" stroke-width="1" fill="none" opacity="0.8"/>
<path d="M255.3 982.5H455.8V962.7" stroke="#44607b" stroke-width="1" fill="none" opacity="0.8"/>
<rect x="333.0" y="965.6" width="48.5" height="14.4" fill="#a55b80"/>
<path d="M333.5 980.1V966.1H381.5" stroke="#c08ca6" stroke-width="1" fill="none" opacity="0.8"/>
<path d="M333.0 979.6H381.0V965.6" stroke="#7b4460" stroke-width="1" fill="none" opacity="0.8"/>
<path d="M255.3 986.5Q255.3 983.0 258.8 983.0H413.0V997.3H255.3Z" fill="#99a55c"/>
<path d="M255.8 997.3V987.0Q255.8 983.5 259.3 983.5H413.0" stroke="#b7c08c" stroke-width="1" fill="none" opacity="0.8"/>
<path d="M255.3 996.8H412.5V983.0" stroke="#727b45" stroke-width="1" fill="none" opacity="0.8"/>
<path d="M255.3 1000.8Q255.3 997.3 258.8 997.3H341.2V1010.6H255.3Z" fill="#99a55c"/>
<path d="M255.8 1010.6V1001.3Q255.8 997.8 259.3 997.8H341.2" stroke="#b7c08c" stroke-width="1" fill="none" opacity="0.8"/>
<path d="M255.3 1010.1H340.7V997.3" stroke="#727b45" stroke-width="1" fill="none" opacity="0.8"/>
<path d="M221.5 31.2l-3.3 1.2v3.6l3.3 1.2z" fill="#a55b80"/>
<path d="M287.8 31.2l-3.3 1.2v3.6l3.3 1.2z" fill="#5b67a5"/>
<path d="M168.5 83.0l2 3.5h5l2 -3.5z" fill="#5b80a5"/>
<path d="M168.5 103.0l2 3.5h5l2 -3.5z" fill="#5b80a5"/>
<path d="M168.5 117.5l2 3.5h5l2 -3.5z" fill="#a55b80"/>
<path d="M262.5 108.4l-3.3 1.2v3.6l3.3 1.2z" fill="#5b67a5"/>
<path d="M258.5 127.3l-3.3 1.2v3.6l3.3 1.2z" fill="#a55b80"/>
<path d="M325.5 127.0l-3.3 1.2v3.6l3.3 1.2z" fill="#5b67a5"/>
<path d="M443.7 147.2l-3.3 1.2v3.6l3.3 1.2z" fill="#5ba58c"/>
<path d="M180.0 207.8l2 3.5h5l2 -3.5z" fill="#a55b80"/>
<path d="M233.4 216.0l-3.3 1.2v3.6l3.3 1.2z" fill="#a55b80"/>
<path d="M296.2 216.0l-3.3 1.2v3.6l3.3 1.2z" fill="#5b67a5"/>
<path d="M215.0 241.7l2 3.5h5l2 -3.5z" fill="#99a55c"/>
<path d="M268.5 253.0l-3.3 1.2v3.6l3.3 1.2z" fill="#a55b80"/>
<path d="M333.4 253.0l-3.3 1.2v3.6l3.3 1.2z" fill="#5b67a5"/>
<path d="M268.5 271.5l-3.3 1.2v3.6l3.3 1.2z" fill="#a55b80"/>
<path d="M333.4 271.5l-3.3 1.2v3.6l3.3 1.2z" fill="#5b67a5"/>
<path d="M278.4 306.5l-3.3 1.2v3.6l3.3 1.2z" fill="#a55b80"/>
<path d="M341.2 306.5l-3.3 1.2v3.6l3.3 1.2z" fill="#5b67a5"/>
<path d="M261.3 338.0l2 3.5h5l2 -3.5z" fill="#5b80a5"/>
<path d="M261.3 352.4l2 3.5h5l2 -3.5z" fill="#99a55c"/>
<path d="M261.3 367.0l2 3.5h5l2 -3.5z" fill="#99a55c"/>
<path d="M312.3 376.0l-3.3 1.2v3.6l3.3 1.2z" fill="#a55b80"/>
<path d="M377.8 376.0l-3.3 1.2v3.6l3.3 1.2z" fill="#5b67a5"/>
<path d="M312.3 396.0l-3.3 1.2v3.6l3.3 1.2z" fill="#a55b80"/>
<path d="M377.8 396.0l-3.3 1.2v3.6l3.3 1.2z" fill="#5b67a5"/>
<path d="M261.3 423.0l2 3.5h5l2 -3.5z" fill="#99a55c"/>
<path d="M261.3 437.3l2 3.5h5l2 -3.5z" fill="#a55b80"/>
<path d="M342.5 428.5l-3.3 1.2v3.6l3.3 1.2z" fill="#5ba58c"/>
<path d="M430.5 429.0l-3.3 1.2v3.6l3.3 1.2z" fill="#5ba58c"/>
<path d="M261.3 452.2l2 3.5h5l2 -3.5z" fill="#ffff22"/>
<path d="M261.3 471.4l2 3.5h5l2 -3.5z" fill="#5b80a5"/>
<path d="M333.5 459.1l-3.3 1.2v3.6l3.3 1.2z" fill="#a55b80"/>
<path d="M261.3 485.6l2 3.5h5l2 -3.5z" fill="#ffff22"/>
<path d="M261.3 504.8l2 3.5h5l2 -3.5z" fill="#5b80a5"/>
<path d="M333.5 492.5l-3.3 1.2v3.6l3.3 1.2z" fill="#a55b80"/>
<path d="M261.3 518.8l2 3.5h5l2 -3.5z" fill="#ffff22"/>
<path d="M261.3 538.3l2 3.5h5l2 -3.5z" fill="#5b80a5"/>
<path d="M333.5 525.8l-3.3 1.2v3.6l3.3 1.2z" fill="#a55b80"/>
<path d="M231.5 565.5l-3.3 1.2v3.6l3.3 1.2z" fill="#a55b80"/>
<path d="M295.8 565.5l-3.3 1.2v3.6l3.3 1.2z" fill="#5b67a5"/>
<path d="M461.3 599.3l-3.3 1.2v3.6l3.3 1.2z" fill="#5ba58c"/>
<path d="M261.3 631.2l2 3.5h5l2 -3.5z" fill="#5b80a5"/>
<path d="M261.3 651.6l2 3.5h5l2 -3.5z" fill="#5b80a5"/>
<path d="M372.5 638.0l-3.3 1.2v3.6l3.3 1.2z" fill="#5ba58c"/>
<path d="M261.3 666.3l2 3.5h5l2 -3.5z" fill="#99a55c"/>
<path d="M261.3 680.3l2 3.5h5l2 -3.5z" fill="#99a55c"/>
<path d="M312.3 690.0l-3.3 1.2v3.6l3.3 1.2z" fill="#a55b80"/>
<path d="M378.9 690.0l-3.3 1.2v3.6l3.3 1.2z" fill="#5b67a5"/>
<path d="M261.3 736.0l2 3.5h5l2 -3.5z" fill="#a55b80"/>
<path d="M360.0 728.0l-3.3 1.2v3.6l3.3 1.2z" fill="#5b67a5"/>
<path d="M261.3 754.5l2 3.5h5l2 -3.5z" fill="#5b80a5"/>
<path d="M261.3 776.4l2 3.5h5l2 -3.5z" fill="#a55b80"/>
<path d="M371.5 761.0l-3.3 1.2v3.6l3.3 1.2z" fill="#5b67a5"/>
<path d="M261.3 797.2l2 3.5h5l2 -3.5z" fill="#5b80a5"/>
<path d="M430.7 784.0l-3.3 1.2v3.6l3.3 1.2z" fill="#a55b80"/>
<path d="M261.3 822.3l2 3.5h5l2 -3.5z" fill="#a55b80"/>
<path d="M342.5 802.0l-3.3 1.2v3.6l3.3 1.2z" fill="#5b67a5"/>
<path d="M388.7 807.9l-3.3 1.2v3.6l3.3 1.2z" fill="#a55b80"/>
<path d="M489.8 806.4l-3.3 1.2v3.6l3.3 1.2z" fill="#5b67a5"/>
<path d="M261.3 879.0l2 3.5h5l2 -3.5z" fill="#a55b80"/>
<path d="M344.1 826.8l-3.3 1.2v3.6l3.3 1.2z" fill="#5ba58c"/>
<path d="M425.9 855.2l-3.3 1.2v3.6l3.3 1.2z" fill="#a55b80"/>
<path d="M260.1 893.3l2 3.5h5l2 -3.5z" fill="#ffff22"/>
<path d="M261.3 912.5l2 3.5h5l2 -3.5z" fill="#5b80a5"/>
<path d="M333.5 900.2l-3.3 1.2v3.6l3.3 1.2z" fill="#a55b80"/>
<path d="M260.1 927.5l2 3.5h5l2 -3.5z" fill="#ffff22"/>
<path d="M261.3 946.8l2 3.5h5l2 -3.5z" fill="#5b80a5"/>
<path d="M333.5 934.4l-3.3 1.2v3.6l3.3 1.2z" fill="#a55b80"/>
<path d="M260.1 961.7l2 3.5h5l2 -3.5z" fill="#ffff22"/>
<path d="M261.3 982.0l2 3.5h5l2 -3.5z" fill="#5b80a5"/>
<path d="M333.5 969.1l-3.3 1.2v3.6l3.3 1.2z" fill="#a55b80"/>
<path d="M261.3 996.3l2 3.5h5l2 -3.5z" fill="#99a55c"/>
<path d="M261.3 1009.6l2 3.5h5l2 -3.5z" fill="#99a55c"/>
<path d="M163.1 114.2V115.7Q163.1 119.8 166.6 119.8H177.5" stroke="#e6ebf1" stroke-width="1.4" fill="none"/>
<path d="M163.1 1040.0V1041.5Q163.1 1045.6 166.6 1045.6H178.0" stroke="#e6ebf1" stroke-width="1.4" fill="none"/>
<path d="M134.0 1049.0l2 3.5h5l2 -3.5z" fill="#5b80a5"/>
<path d="M123.0 1057.5l2 3.5h5l2 -3.5z" fill="#a55b80"/>
<path d="M174.6 1032.5V1034.0Q174.6 1038.1 178.1 1038.1H321.7" stroke="#eff1e6" stroke-width="1.4" fill="none"/>
<path d="M168.8 1041.9l2 3.5h5l2 -3.5z" fill="#99a55c"/>
<path d="M209.4 238.0V239.5Q209.4 243.6 212.9 243.6H223.5" stroke="#e6ebf1" stroke-width="1.4" fill="none"/>
<path d="M209.4 551.4V552.9Q209.4 557.0 212.9 557.0H223.5" stroke="#e6ebf1" stroke-width="1.4" fill="none"/>
<path d="M209.4 1023.6V1025.1Q209.4 1029.2 212.9 1029.2H223.4" stroke="#e6ebf1" stroke-width="1.4" fill="none"/>
<path d="M180.0 1033.7l2 3.5h5l2 -3.5z" fill="#5b80a5"/>
<path d="M220.6 545.2V546.7Q220.6 550.8 224.1 550.8H396.2" stroke="#eff1e6" stroke-width="1.4" fill="none"/>
<path d="M214.8 555.4l2 3.5h5l2 -3.5z" fill="#99a55c"/>
<path d="M255.9 363.0V364.5Q255.9 368.6 259.4 368.6H269.5" stroke="#e6ebf1" stroke-width="1.4" fill="none"/>
<path d="M255.9 534.3V535.8Q255.9 539.9 259.4 539.9H269.0" stroke="#e6ebf1" stroke-width="1.4" fill="none"/>
<path d="M226.0 547.6l2 3.5h5l2 -3.5z" fill="#5b80a5"/>
<path d="M220.6 1016.4V1017.9Q220.6 1022.0 224.1 1022.0H439.4" stroke="#eff1e6" stroke-width="1.4" fill="none"/>
<path d="M214.8 1025.8l2 3.5h5l2 -3.5z" fill="#99a55c"/>
<path d="M255.9 676.3V677.8Q255.9 681.9 259.4 681.9H270.3" stroke="#e6ebf1" stroke-width="1.4" fill="none"/>
<path d="M255.9 1007.4V1008.9Q255.9 1013.0 259.4 1013.0H268.9" stroke="#e6ebf1" stroke-width="1.4" fill="none"/>
<path d="M226.0 1017.9l2 3.5h5l2 -3.5z" fill="#5b80a5"/>
<rect x="133.5" y="27.0" width="9" height="9" fill="#4040cc" rx="1.5"/>
<polygon points="141.14,32.14 140.86,32.93 139.72,33.02 139.27,33.42 139.02,34.53 138.20,34.69 137.54,33.75 136.98,33.56 135.88,33.90 135.33,33.27 135.82,32.23 135.70,31.64 134.86,30.86 135.14,30.07 136.28,29.98 136.73,29.58 136.98,28.47 137.80,28.31 138.46,29.25 139.02,29.44 140.12,29.10 140.67,29.73 140.18,30.77 140.30,31.36" fill="#fff"/>
<circle cx="138" cy="31.5" r="1.0" fill="#4040cc"/>
<text x="146.0" y="33.7" fill="#e8eef4" font-size="8.1" textLength="16.0" lengthAdjust="spacing">falls</text>
<text x="132.5" y="72.2" fill="#e8eef4" font-size="8.1" textLength="25.0" lengthAdjust="spacing">mache</text>
<text x="133.0" y="129.2" fill="#e8eef4" font-size="8.1" textLength="37.6" lengthAdjust="spacing">sonst falls</text>
<text x="133.0" y="189.2" fill="#e8eef4" font-size="8.1" textLength="24.5" lengthAdjust="spacing">mache</text>
<rect x="181.4" y="47.3" width="26.3" height="8.4" rx="2.5" fill="#fff" fill-opacity="0.62"/>
<text x="191.2" y="53.9" fill="#262626" font-size="8.3" text-anchor="middle">und</text>
<path d="M201.6 50.9h3.2l-1.6 2z" fill="#fff" fill-opacity="0.75"/>
<rect x="227.0" y="30.0" width="29.8" height="9.8" rx="2.5" fill="#fff" fill-opacity="0.62"/>
<text x="228.8" y="38.0" fill="#262626" font-size="8.3" textLength="18.4" lengthAdjust="spacing">Watt</text>
<path d="M250.7 34.3h3.2l-1.6 2z" fill="#fff" fill-opacity="0.75"/>
<rect x="262.5" y="30.0" width="18.0" height="9.0" rx="2.5" fill="#fff" fill-opacity="0.62"/>
<text x="264.3" y="37.2" fill="#262626" font-size="8.3" textLength="6.6" lengthAdjust="spacing">&gt;</text>
<path d="M274.4 33.9h3.2l-1.6 2z" fill="#fff" fill-opacity="0.75"/>
<rect x="290.3" y="30.0" width="11.2" height="9.8" rx="2.5" fill="#fff" fill-opacity="0.62"/>
<text x="295.8" y="38.0" fill="#262626" font-size="8.3" text-anchor="middle">4</text>
<rect x="227.0" y="50.2" width="30.0" height="8.3" rx="2.5" fill="#fff" fill-opacity="0.62"/>
<text x="228.8" y="56.7" fill="#262626" font-size="8.3" textLength="18.8" lengthAdjust="spacing">Wert</text>
<path d="M250.9 53.8h3.2l-1.6 2z" fill="#fff" fill-opacity="0.75"/>
<text x="259.0" y="56.6" fill="#e8eef4" font-size="8.1" textLength="50.0" lengthAdjust="spacingAndGlyphs">vom Objekt ID</text>
<rect x="311.0" y="50.0" width="92.0" height="8.2" rx="2.5" fill="#fff" fill-opacity="0.62"/>
<text x="312.8" y="56.4" fill="#262626" font-size="8.3" textLength="88.2" lengthAdjust="spacingAndGlyphs">Waschmaschiene_fertig</text>
<rect x="405.0" y="50.0" width="18.0" height="8.2" rx="2.5" fill="#fff" fill-opacity="0.62"/>
<text x="410.6" y="56.4" fill="#262626" font-size="10" font-weight="bold" text-anchor="middle">=</text>
<path d="M416.9 53.5h3.2l-1.6 2z" fill="#fff" fill-opacity="0.75"/>
<rect x="432.7" y="50.0" width="30.7" height="8.2" rx="2.5" fill="#fff" fill-opacity="0.62"/>
<text x="434.5" y="56.4" fill="#262626" font-size="8.3" textLength="19.4" lengthAdjust="spacing">wahr</text>
<path d="M457.3 53.5h3.2l-1.6 2z" fill="#fff" fill-opacity="0.75"/>
<text x="167.5" y="75.8" fill="#e8eef4" font-size="8.1" textLength="27.3" lengthAdjust="spacing">steuere</text>
<rect x="196.0" y="69.2" width="88.8" height="8.8" rx="2.5" fill="#fff" fill-opacity="0.62"/>
<text x="197.8" y="76.2" fill="#262626" font-size="8.3" textLength="85.0" lengthAdjust="spacingAndGlyphs">Waschmaschiene_fertig</text>
<text x="292.0" y="75.8" fill="#e8eef4" font-size="8.1" text-anchor="middle">mit</text>
<rect x="309.6" y="69.8" width="34.4" height="8.5" rx="2.5" fill="#fff" fill-opacity="0.62"/>
<text x="311.4" y="76.5" fill="#262626" font-size="8.3" textLength="23.1" lengthAdjust="spacing">falsch</text>
<path d="M337.9 73.5h3.2l-1.6 2z" fill="#fff" fill-opacity="0.75"/>
<text x="351.6" y="75.8" fill="#e8eef4" font-size="8.1" textLength="58.4" lengthAdjust="spacingAndGlyphs">mit Verzögerung</text>
<rect x="410.0" y="70.0" width="8.0" height="8.0" rx="2" fill="#fff" fill-opacity="0.6"/>
<text x="167.5" y="96.0" fill="#e8eef4" font-size="8.1" textLength="27.3" lengthAdjust="spacing">steuere</text>
<rect x="196.0" y="89.3" width="117.0" height="8.9" rx="2.5" fill="#fff" fill-opacity="0.62"/>
<text x="197.8" y="96.4" fill="#262626" font-size="8.3" textLength="113.2" lengthAdjust="spacingAndGlyphs">Waschmaschiene_Anfangs_KW</text>
<text x="320.5" y="96.0" fill="#e8eef4" font-size="8.1" text-anchor="middle">mit</text>
<rect x="337.7" y="89.9" width="30.7" height="8.5" rx="2.5" fill="#fff" fill-opacity="0.62"/>
<text x="339.5" y="96.6" fill="#262626" font-size="8.3" textLength="19.2" lengthAdjust="spacing">Wert</text>
<path d="M362.3 93.6h3.2l-1.6 2z" fill="#fff" fill-opacity="0.75"/>
<text x="371.0" y="96.2" fill="#e8eef4" font-size="8.1" textLength="49.0" lengthAdjust="spacingAndGlyphs">vom Objekt ID</text>
<rect x="422.0" y="89.6" width="123.6" height="9.3" rx="2.5" fill="#fff" fill-opacity="0.62"/>
<text x="423.8" y="97.1" fill="#262626" font-size="8.3" textLength="119.8" lengthAdjust="spacingAndGlyphs">Waschmaschiene ENERGY  Total</text>
<text x="552.0" y="96.2" fill="#e8eef4" font-size="8.1" textLength="59.0" lengthAdjust="spacing">mit Verzögerung</text>
<rect x="611.5" y="89.6" width="7.0" height="8.4" rx="2" fill="#fff" fill-opacity="0.6"/>
<text x="167.5" y="113.4" fill="#e8eef4" font-size="8.1" textLength="19.4" lengthAdjust="spacing">setze</text>
<rect x="189.3" y="107.2" width="51.9" height="8.1" rx="2.5" fill="#fff" fill-opacity="0.62"/>
<text x="191.1" y="113.5" fill="#262626" font-size="8.3" textLength="41.4" lengthAdjust="spacing">xte-ansage</text>
<path d="M235.1 110.7h3.2l-1.6 2z" fill="#fff" fill-opacity="0.75"/>
<text x="249.7" y="113.4" fill="#e8eef4" font-size="8.1" text-anchor="middle">auf</text>
<rect x="266.4" y="107.2" width="10.9" height="7.3" rx="2.5" fill="#fff" fill-opacity="0.62"/>
<text x="271.8" y="112.7" fill="#262626" font-size="8.3" text-anchor="middle">0</text>
<rect x="181.4" y="163.4" width="26.6" height="8.4" rx="2.5" fill="#fff" fill-opacity="0.62"/>
<text x="191.4" y="170.0" fill="#262626" font-size="8.3" text-anchor="middle">und</text>
<path d="M201.9 167.0h3.2l-1.6 2z" fill="#fff" fill-opacity="0.75"/>
<rect x="217.8" y="143.5" width="26.4" height="8.0" rx="2.5" fill="#fff" fill-opacity="0.62"/>
<text x="227.7" y="149.7" fill="#262626" font-size="8.3" text-anchor="middle">und</text>
<path d="M238.1 146.9h3.2l-1.6 2z" fill="#fff" fill-opacity="0.75"/>
<rect x="262.0" y="126.1" width="31.4" height="9.0" rx="2.5" fill="#fff" fill-opacity="0.62"/>
<text x="263.8" y="133.3" fill="#262626" font-size="8.3" textLength="19.4" lengthAdjust="spacing">Watt</text>
<path d="M287.3 130.0h3.2l-1.6 2z" fill="#fff" fill-opacity="0.75"/>
<rect x="299.0" y="126.0" width="19.0" height="9.0" rx="2.5" fill="#fff" fill-opacity="0.62"/>
<text x="300.8" y="133.2" fill="#262626" font-size="8.3" textLength="7.2" lengthAdjust="spacing">&lt;</text>
<path d="M311.9 129.9h3.2l-1.6 2z" fill="#fff" fill-opacity="0.75"/>
<rect x="327.0" y="125.8" width="10.0" height="9.2" rx="2.5" fill="#fff" fill-opacity="0.62"/>
<text x="331.9" y="133.2" fill="#262626" font-size="8.3" text-anchor="middle">4</text>
<rect x="263.0" y="146.4" width="31.0" height="8.3" rx="2.5" fill="#fff" fill-opacity="0.62"/>
<text x="264.8" y="152.9" fill="#262626" font-size="8.3" textLength="19.4" lengthAdjust="spacing">Wert</text>
<path d="M287.9 150.0h3.2l-1.6 2z" fill="#fff" fill-opacity="0.75"/>
<text x="296.0" y="152.7" fill="#e8eef4" font-size="8.1" textLength="50.0" lengthAdjust="spacingAndGlyphs">vom Objekt ID</text>
<rect x="347.7" y="146.0" width="64.1" height="8.7" rx="2.5" fill="#fff" fill-opacity="0.62"/>
<text x="349.5" y="152.9" fill="#262626" font-size="8.3" textLength="60.3" lengthAdjust="spacingAndGlyphs">Wasch-summary</text>
<rect x="418.0" y="146.0" width="19.0" height="9.0" rx="2.5" fill="#fff" fill-opacity="0.62"/>
<text x="424.1" y="153.2" fill="#262626" font-size="10" font-weight="bold" text-anchor="middle">=</text>
<path d="M430.9 149.9h3.2l-1.6 2z" fill="#fff" fill-opacity="0.75"/>
<circle cx="451.1" cy="151.1" r="1.35" fill="#e8f8f0"/>
<path d="M449.8 151.1Q449.9 148.1 452.3 147.5" stroke="#e8f8f0" stroke-width="0.9" fill="none"/>
<circle cx="454.6" cy="151.1" r="1.35" fill="#e8f8f0"/>
<path d="M453.3 151.1Q453.4 148.1 455.8 147.5" stroke="#e8f8f0" stroke-width="0.9" fill="none"/>
<rect x="458.3" y="146.3" width="40.7" height="8.6" rx="2.5" fill="#fff" fill-opacity="0.62"/>
<text x="460.1" y="153.1" fill="#262626" font-size="8.3" textLength="36.9" lengthAdjust="spacingAndGlyphs">Läuft noch</text>
<circle cx="502.7" cy="149.1" r="1.35" fill="#e8f8f0"/>
<path d="M504.0 149.1Q503.9 152.1 501.5 152.7" stroke="#e8f8f0" stroke-width="0.9" fill="none"/>
<circle cx="506.2" cy="149.1" r="1.35" fill="#e8f8f0"/>
<path d="M507.5 149.1Q507.4 152.1 505.0 152.7" stroke="#e8f8f0" stroke-width="0.9" fill="none"/>
<rect x="226.8" y="166.5" width="30.2" height="8.3" rx="2.5" fill="#fff" fill-opacity="0.62"/>
<text x="228.6" y="173.0" fill="#262626" font-size="8.3" textLength="18.9" lengthAdjust="spacing">Wert</text>
<path d="M250.9 170.1h3.2l-1.6 2z" fill="#fff" fill-opacity="0.75"/>
<text x="259.0" y="172.7" fill="#e8eef4" font-size="8.1" textLength="50.0" lengthAdjust="spacingAndGlyphs">vom Objekt ID</text>
<rect x="310.0" y="166.0" width="93.0" height="8.5" rx="2.5" fill="#fff" fill-opacity="0.62"/>
<text x="311.8" y="172.7" fill="#262626" font-size="8.3" textLength="88.8" lengthAdjust="spacing">Waschmaschiene_fertig</text>
<rect x="405.0" y="166.0" width="18.6" height="8.5" rx="2.5" fill="#fff" fill-opacity="0.62"/>
<text x="411.0" y="172.7" fill="#262626" font-size="10" font-weight="bold" text-anchor="middle">=</text>
<path d="M417.5 169.7h3.2l-1.6 2z" fill="#fff" fill-opacity="0.75"/>
<rect x="433.3" y="166.0" width="34.2" height="9.3" rx="2.5" fill="#fff" fill-opacity="0.62"/>
<text x="435.1" y="173.5" fill="#262626" font-size="8.3" textLength="23.0" lengthAdjust="spacing">falsch</text>
<path d="M461.4 170.1h3.2l-1.6 2z" fill="#fff" fill-opacity="0.75"/>
<text x="167.8" y="189.7" fill="#e8eef4" font-size="8.1" textLength="37.4" lengthAdjust="spacing">Ausführen</text>
<rect x="205.5" y="183.3" width="52.5" height="8.3" rx="2.5" fill="#fff" fill-opacity="0.62"/>
<text x="207.3" y="189.8" fill="#262626" font-size="8.3" textLength="48.7" lengthAdjust="spacingAndGlyphs">Kurz Warten2</text>
<text x="264.4" y="189.7" fill="#e8eef4" font-size="8.1" text-anchor="middle">in</text>
<rect x="269.5" y="183.3" width="17.5" height="8.3" rx="2.5" fill="#fff" fill-opacity="0.62"/>
<text x="271.3" y="189.8" fill="#262626" font-size="8.3" textLength="13.7" lengthAdjust="spacingAndGlyphs">120</text>
<rect x="293.0" y="183.3" width="25.5" height="8.3" rx="2.5" fill="#fff" fill-opacity="0.62"/>
<text x="302.4" y="189.8" fill="#262626" font-size="8.3" text-anchor="middle">Sek</text>
<path d="M312.4 186.8h3.2l-1.6 2z" fill="#fff" fill-opacity="0.75"/>
<text x="178.0" y="204.0" fill="#e8eef4" font-size="8.1" textLength="20.0" lengthAdjust="spacing">setze</text>
<rect x="200.5" y="198.0" width="28.8" height="7.5" rx="2.5" fill="#fff" fill-opacity="0.62"/>
<text x="202.3" y="203.7" fill="#262626" font-size="8.3" textLength="17.8" lengthAdjust="spacing">Watt</text>
<path d="M223.2 201.2h3.2l-1.6 2z" fill="#fff" fill-opacity="0.75"/>
<text x="238.5" y="204.0" fill="#e8eef4" font-size="8.1" text-anchor="middle">auf</text>
<rect x="257.0" y="198.0" width="29.0" height="7.5" rx="2.5" fill="#fff" fill-opacity="0.62"/>
<text x="258.8" y="203.7" fill="#262626" font-size="8.3" textLength="18.2" lengthAdjust="spacing">Wert</text>
<path d="M279.9 201.2h3.2l-1.6 2z" fill="#fff" fill-opacity="0.75"/>
<text x="288.0" y="204.2" fill="#e8eef4" font-size="8.1" textLength="48.0" lengthAdjust="spacingAndGlyphs">vom Objekt ID</text>
<rect x="337.7" y="198.0" width="132.3" height="8.0" rx="2.5" fill="#fff" fill-opacity="0.62"/>
<text x="339.5" y="204.2" fill="#262626" font-size="8.3" textLength="128.5" lengthAdjust="spacingAndGlyphs">Waschmaschiene ENERGY  Power</text>
<rect x="179.1" y="212.0" width="9" height="9" fill="#4040cc" rx="1.5"/>
<polygon points="186.74,217.14 186.46,217.93 185.32,218.02 184.87,218.42 184.62,219.53 183.80,219.69 183.14,218.75 182.58,218.56 181.48,218.90 180.93,218.27 181.42,217.23 181.30,216.64 180.46,215.86 180.74,215.07 181.88,214.98 182.33,214.58 182.58,213.47 183.40,213.31 184.06,214.25 184.62,214.44 185.72,214.10 186.27,214.73 185.78,215.77 185.90,216.36" fill="#fff"/>
<circle cx="183.6" cy="216.5" r="1.0" fill="#4040cc"/>
<text x="192.7" y="218.5" fill="#e8eef4" font-size="8.1" textLength="15.5" lengthAdjust="spacing">falls</text>
<text x="178.8" y="237.2" fill="#e8eef4" font-size="8.1" textLength="23.9" lengthAdjust="spacingAndGlyphs">mache</text>
<text x="178.8" y="254.4" fill="#e8eef4" font-size="8.1" textLength="38.1" lengthAdjust="spacing">sonst falls</text>
<text x="178.8" y="293.4" fill="#e8eef4" font-size="8.1" textLength="23.9" lengthAdjust="spacingAndGlyphs">mache</text>
<text x="178.7" y="567.2" fill="#e8eef4" font-size="8.1" textLength="37.7" lengthAdjust="spacing">sonst falls</text>
<text x="178.7" y="587.2" fill="#e8eef4" font-size="8.1" textLength="24.6" lengthAdjust="spacing">mache</text>
<rect x="235.4" y="214.8" width="31.4" height="9.1" rx="2.5" fill="#fff" fill-opacity="0.62"/>
<text x="237.2" y="222.1" fill="#262626" font-size="8.3" textLength="19.4" lengthAdjust="spacing">Watt</text>
<path d="M260.7 218.8h3.2l-1.6 2z" fill="#fff" fill-opacity="0.75"/>
<rect x="271.8" y="215.0" width="18.2" height="9.0" rx="2.5" fill="#fff" fill-opacity="0.62"/>
<text x="273.6" y="222.2" fill="#262626" font-size="8.3" textLength="6.7" lengthAdjust="spacing">&gt;</text>
<path d="M283.9 218.9h3.2l-1.6 2z" fill="#fff" fill-opacity="0.75"/>
<rect x="299.4" y="214.8" width="18.9" height="9.1" rx="2.5" fill="#fff" fill-opacity="0.62"/>
<text x="308.8" y="222.1" fill="#262626" font-size="8.3" text-anchor="middle">120</text>
<text x="214.0" y="238.2" fill="#e8eef4" font-size="8.1" textLength="16.0" lengthAdjust="spacing">stop</text>
<rect x="231.6" y="232.0" width="61.1" height="8.0" rx="2.5" fill="#fff" fill-opacity="0.62"/>
<text x="233.4" y="238.2" fill="#262626" font-size="8.3" textLength="50.7" lengthAdjust="spacing">Kurz Warten2</text>
<path d="M286.6 235.4h3.2l-1.6 2z" fill="#fff" fill-opacity="0.75"/>
<rect x="227.3" y="268.3" width="26.2" height="8.3" rx="2.5" fill="#fff" fill-opacity="0.62"/>
<text x="237.1" y="274.8" fill="#262626" font-size="8.3" text-anchor="middle">und</text>
<path d="M247.4 271.9h3.2l-1.6 2z" fill="#fff" fill-opacity="0.75"/>
<rect x="271.8" y="251.8" width="30.9" height="8.2" rx="2.5" fill="#fff" fill-opacity="0.62"/>
<text x="273.6" y="258.2" fill="#262626" font-size="8.3" textLength="19.1" lengthAdjust="spacing">Watt</text>
<path d="M296.6 255.3h3.2l-1.6 2z" fill="#fff" fill-opacity="0.75"/>
<rect x="307.0" y="250.2" width="19.3" height="9.6" rx="2.5" fill="#fff" fill-opacity="0.62"/>
<text x="308.8" y="258.0" fill="#262626" font-size="8.3" textLength="7.3" lengthAdjust="spacing">&gt;</text>
<path d="M320.2 254.4h3.2l-1.6 2z" fill="#fff" fill-opacity="0.75"/>
<rect x="335.9" y="251.8" width="15.1" height="8.2" rx="2.5" fill="#fff" fill-opacity="0.62"/>
<text x="343.4" y="258.2" fill="#262626" font-size="8.3" text-anchor="middle">30</text>
<rect x="271.8" y="270.3" width="30.9" height="9.2" rx="2.5" fill="#fff" fill-opacity="0.62"/>
<text x="273.6" y="277.7" fill="#262626" font-size="8.3" textLength="19.1" lengthAdjust="spacing">Watt</text>
<path d="M296.6 274.3h3.2l-1.6 2z" fill="#fff" fill-opacity="0.75"/>
<rect x="307.0" y="269.8" width="19.3" height="9.2" rx="2.5" fill="#fff" fill-opacity="0.62"/>
<text x="308.8" y="277.2" fill="#262626" font-size="8.3" textLength="7.3" lengthAdjust="spacing">&lt;</text>
<path d="M320.2 273.8h3.2l-1.6 2z" fill="#fff" fill-opacity="0.75"/>
<rect x="336.0" y="270.3" width="18.7" height="9.2" rx="2.5" fill="#fff" fill-opacity="0.62"/>
<text x="345.2" y="277.7" fill="#262626" font-size="8.3" text-anchor="middle">120</text>
<text x="214.0" y="294.5" fill="#e8eef4" font-size="8.1" textLength="37.4" lengthAdjust="spacing">Ausführen</text>
<rect x="251.7" y="288.0" width="84.2" height="8.5" rx="2.5" fill="#fff" fill-opacity="0.62"/>
<text x="253.5" y="294.7" fill="#262626" font-size="8.3" textLength="80.4" lengthAdjust="spacingAndGlyphs">Prüfe fehler oder ende</text>
<text x="339.8" y="294.5" fill="#e8eef4" font-size="8.1" text-anchor="middle">in</text>
<rect x="343.2" y="288.0" width="18.1" height="8.3" rx="2.5" fill="#fff" fill-opacity="0.62"/>
<text x="352.1" y="294.5" fill="#262626" font-size="8.3" text-anchor="middle">180</text>
<rect x="367.0" y="288.0" width="25.0" height="8.3" rx="2.5" fill="#fff" fill-opacity="0.62"/>
<text x="376.1" y="294.5" fill="#262626" font-size="8.3" text-anchor="middle">Sek</text>
<path d="M385.9 291.5h3.2l-1.6 2z" fill="#fff" fill-opacity="0.75"/>
<rect x="224.5" y="302.5" width="9" height="9" fill="#4040cc" rx="1.5"/>
<polygon points="232.14,307.64 231.86,308.43 230.72,308.52 230.27,308.92 230.02,310.03 229.20,310.19 228.54,309.25 227.98,309.06 226.88,309.40 226.33,308.77 226.82,307.73 226.70,307.14 225.86,306.36 226.14,305.57 227.28,305.48 227.73,305.08 227.98,303.97 228.80,303.81 229.46,304.75 230.02,304.94 231.12,304.60 231.67,305.23 231.18,306.27 231.30,306.86" fill="#fff"/>
<circle cx="229" cy="307" r="1.0" fill="#4040cc"/>
<text x="239.0" y="309.2" fill="#e8eef4" font-size="8.1" textLength="15.5" lengthAdjust="spacing">falls</text>
<text x="224.6" y="327.4" fill="#e8eef4" font-size="8.1" textLength="24.4" lengthAdjust="spacing">mache</text>
<text x="224.6" y="378.9" fill="#e8eef4" font-size="8.1" textLength="37.3" lengthAdjust="spacing">sonst falls</text>
<text x="224.6" y="418.7" fill="#e8eef4" font-size="8.1" textLength="24.4" lengthAdjust="spacing">mache</text>
<rect x="281.6" y="305.3" width="30.2" height="8.6" rx="2.5" fill="#fff" fill-opacity="0.62"/>
<text x="283.4" y="312.1" fill="#262626" font-size="8.3" textLength="18.6" lengthAdjust="spacing">Watt</text>
<path d="M305.7 309.0h3.2l-1.6 2z" fill="#fff" fill-opacity="0.75"/>
<rect x="317.6" y="305.5" width="18.0" height="8.5" rx="2.5" fill="#fff" fill-opacity="0.62"/>
<text x="319.4" y="312.2" fill="#262626" font-size="8.3" textLength="6.6" lengthAdjust="spacing">&lt;</text>
<path d="M329.5 309.1h3.2l-1.6 2z" fill="#fff" fill-opacity="0.75"/>
<rect x="344.4" y="305.3" width="18.9" height="8.6" rx="2.5" fill="#fff" fill-opacity="0.62"/>
<text x="353.8" y="312.1" fill="#262626" font-size="8.3" text-anchor="middle">130</text>
<text x="259.8" y="331.2" fill="#e8eef4" font-size="8.1" textLength="26.9" lengthAdjust="spacingAndGlyphs">steuere</text>
<rect x="288.0" y="324.7" width="87.9" height="8.6" rx="2.5" fill="#fff" fill-opacity="0.62"/>
<text x="289.8" y="331.5" fill="#262626" font-size="8.3" textLength="84.1" lengthAdjust="spacingAndGlyphs">Waschmaschiene_fertig</text>
<text x="384.4" y="331.2" fill="#e8eef4" font-size="8.1" text-anchor="middle">mit</text>
<rect x="401.0" y="325.0" width="30.9" height="9.6" rx="2.5" fill="#fff" fill-opacity="0.62"/>
<text x="402.8" y="332.8" fill="#262626" font-size="8.3" textLength="19.6" lengthAdjust="spacing">wahr</text>
<path d="M425.8 329.2h3.2l-1.6 2z" fill="#fff" fill-opacity="0.75"/>
<text x="439.4" y="331.2" fill="#e8eef4" font-size="8.1" textLength="59.4" lengthAdjust="spacing">mit Verzögerung</text>
<rect x="499.0" y="325.0" width="7.5" height="9.0" rx="2" fill="#fff" fill-opacity="0.6"/>
<text x="259.8" y="348.7" fill="#e8eef4" font-size="8.1" textLength="15.5" lengthAdjust="spacing">stop</text>
<rect x="277.4" y="342.3" width="89.6" height="8.6" rx="2.5" fill="#fff" fill-opacity="0.62"/>
<text x="279.2" y="349.1" fill="#262626" font-size="8.3" textLength="84.5" lengthAdjust="spacing">Prüfe fehler oder ende</text>
<text x="259.8" y="363.2" fill="#e8eef4" font-size="8.1" textLength="15.5" lengthAdjust="spacing">stop</text>
<rect x="277.4" y="356.6" width="60.8" height="8.4" rx="2.5" fill="#fff" fill-opacity="0.62"/>
<text x="279.2" y="363.2" fill="#262626" font-size="8.3" textLength="50.5" lengthAdjust="spacing">Kurz Warten2</text>
<path d="M332.1 360.2h3.2l-1.6 2z" fill="#fff" fill-opacity="0.75"/>
<rect x="272.8" y="393.1" width="25.7" height="8.3" rx="2.5" fill="#fff" fill-opacity="0.62"/>
<text x="282.3" y="399.6" fill="#262626" font-size="8.3" text-anchor="middle">und</text>
<path d="M292.4 396.6h3.2l-1.6 2z" fill="#fff" fill-opacity="0.75"/>
<rect x="317.5" y="374.8" width="30.7" height="9.7" rx="2.5" fill="#fff" fill-opacity="0.62"/>
<text x="319.3" y="382.7" fill="#262626" font-size="8.3" textLength="18.9" lengthAdjust="spacing">Watt</text>
<path d="M342.1 379.0h3.2l-1.6 2z" fill="#fff" fill-opacity="0.75"/>
<rect x="353.2" y="375.3" width="19.1" height="8.7" rx="2.5" fill="#fff" fill-opacity="0.62"/>
<text x="355.0" y="382.2" fill="#262626" font-size="8.3" textLength="7.2" lengthAdjust="spacing">&gt;</text>
<path d="M366.2 379.0h3.2l-1.6 2z" fill="#fff" fill-opacity="0.75"/>
<rect x="381.6" y="374.8" width="14.4" height="9.7" rx="2.5" fill="#fff" fill-opacity="0.62"/>
<text x="388.7" y="382.7" fill="#262626" font-size="8.3" text-anchor="middle">30</text>
<rect x="317.5" y="394.8" width="30.7" height="9.7" rx="2.5" fill="#fff" fill-opacity="0.62"/>
<text x="319.3" y="402.7" fill="#262626" font-size="8.3" textLength="18.9" lengthAdjust="spacing">Watt</text>
<path d="M342.1 399.0h3.2l-1.6 2z" fill="#fff" fill-opacity="0.75"/>
<rect x="353.2" y="396.0" width="19.1" height="8.7" rx="2.5" fill="#fff" fill-opacity="0.62"/>
<text x="355.0" y="402.9" fill="#262626" font-size="8.3" textLength="7.2" lengthAdjust="spacing">&lt;</text>
<path d="M366.2 399.8h3.2l-1.6 2z" fill="#fff" fill-opacity="0.75"/>
<rect x="381.6" y="394.8" width="17.6" height="9.7" rx="2.5" fill="#fff" fill-opacity="0.62"/>
<text x="383.4" y="402.7" fill="#262626" font-size="8.3" textLength="13.8" lengthAdjust="spacingAndGlyphs">120</text>
<text x="259.8" y="419.7" fill="#e8eef4" font-size="8.1" textLength="21.8" lengthAdjust="spacingAndGlyphs">Pause</text>
<rect x="284.9" y="412.7" width="8.5" height="8.8" rx="2.5" fill="#fff" fill-opacity="0.62"/>
<text x="289.0" y="419.7" fill="#262626" font-size="8.3" text-anchor="middle">4</text>
<rect x="299.2" y="412.7" width="24.4" height="8.8" rx="2.5" fill="#fff" fill-opacity="0.62"/>
<text x="308.1" y="419.7" fill="#262626" font-size="8.3" text-anchor="middle">Min</text>
<path d="M317.5 416.5h3.2l-1.6 2z" fill="#fff" fill-opacity="0.75"/>
<text x="259.8" y="433.2" fill="#e8eef4" font-size="8.1" textLength="19.9" lengthAdjust="spacing">setze</text>
<rect x="281.6" y="427.3" width="39.0" height="8.0" rx="2.5" fill="#fff" fill-opacity="0.62"/>
<text x="283.4" y="433.5" fill="#262626" font-size="8.3" textLength="28.5" lengthAdjust="spacing">Antwort</text>
<path d="M314.5 430.7h3.2l-1.6 2z" fill="#fff" fill-opacity="0.75"/>
<text x="330.0" y="433.2" fill="#e8eef4" font-size="8.1" text-anchor="middle">auf</text>
<rect x="349.7" y="426.8" width="9" height="9" fill="#4040cc" rx="1.5"/>
<polygon points="357.34,431.94 357.06,432.73 355.92,432.82 355.47,433.22 355.22,434.33 354.40,434.49 353.74,433.55 353.18,433.36 352.08,433.70 351.53,433.07 352.02,432.03 351.90,431.44 351.06,430.66 351.34,429.87 352.48,429.78 352.93,429.38 353.18,428.27 354.00,428.11 354.66,429.05 355.22,429.24 356.32,428.90 356.87,429.53 356.38,430.57 356.50,431.16" fill="#fff"/>
<circle cx="354.2" cy="431.3" r="1.0" fill="#4040cc"/>
<text x="363.8" y="433.2" fill="#e8eef4" font-size="8.1" textLength="58.6" lengthAdjust="spacing">erstelle Text aus</text>
<rect x="427.5" y="427" width="0.9" height="9" fill="#9fd0bf" opacity="0.8"/>
<circle cx="436.6" cy="431.6" r="1.35" fill="#e8f8f0"/>
<path d="M435.3 431.6Q435.4 428.6 437.8 428.0" stroke="#e8f8f0" stroke-width="0.9" fill="none"/>
<circle cx="440.1" cy="431.6" r="1.35" fill="#e8f8f0"/>
<path d="M438.8 431.6Q438.9 428.6 441.3 428.0" stroke="#e8f8f0" stroke-width="0.9" fill="none"/>
<rect x="443.0" y="426.8" width="129.6" height="8.7" rx="2.5" fill="#fff" fill-opacity="0.62"/>
<text x="444.8" y="433.7" fill="#262626" font-size="8.3" textLength="125.4" lengthAdjust="spacing">Waschmaschiene hat einen Fehle</text>
<circle cx="574.2" cy="429.6" r="1.35" fill="#e8f8f0"/>
<path d="M575.5 429.6Q575.4 432.6 573.0 433.2" stroke="#e8f8f0" stroke-width="0.9" fill="none"/>
<circle cx="577.7" cy="429.6" r="1.35" fill="#e8f8f0"/>
<path d="M579.0 429.6Q578.9 432.6 576.5 433.2" stroke="#e8f8f0" stroke-width="0.9" fill="none"/>
<rect x="258.8" y="440.9" width="43.7" height="9.3" fill="#ffffa0" opacity="0.45"/>
<text x="259.8" y="448.8" fill="#000" font-size="8.5" textLength="41.7" lengthAdjust="spacingAndGlyphs">Kommentar</text>
<text x="259.8" y="465.0" fill="#e8eef4" font-size="8.1" textLength="27.1" lengthAdjust="spacing">steuere</text>
<rect x="288.0" y="458.6" width="25.5" height="8.5" rx="2.5" fill="#fff" fill-opacity="0.62"/>
<text x="289.8" y="465.3" fill="#262626" font-size="8.3" textLength="21.7" lengthAdjust="spacingAndGlyphs">speak</text>
<text x="321.8" y="465.0" fill="#e8eef4" font-size="8.1" text-anchor="middle">mit</text>
<rect x="337.5" y="457.9" width="41.0" height="9.6" rx="2.5" fill="#fff" fill-opacity="0.62"/>
<text x="339.3" y="465.7" fill="#262626" font-size="8.3" textLength="29.7" lengthAdjust="spacing">Antwort</text>
<path d="M372.4 462.1h3.2l-1.6 2z" fill="#fff" fill-opacity="0.75"/>
<text x="387.0" y="465.0" fill="#e8eef4" font-size="8.1" textLength="59.2" lengthAdjust="spacing">mit Verzögerung</text>
<rect x="445.8" y="458.3" width="7.9" height="8.8" rx="2" fill="#fff" fill-opacity="0.6"/>
<path d="M447.3 462.7l2 3l4 -6" stroke="#222" stroke-width="0.9" fill="none"/>
<rect x="460.8" y="458.3" width="8.7" height="8.8" rx="2.5" fill="#fff" fill-opacity="0.62"/>
<text x="465.1" y="465.3" fill="#262626" font-size="8.3" text-anchor="middle">2</text>
<rect x="475.3" y="458.3" width="26.3" height="8.8" rx="2.5" fill="#fff" fill-opacity="0.62"/>
<text x="485.1" y="465.3" fill="#262626" font-size="8.3" text-anchor="middle">Sek</text>
<path d="M495.5 462.1h3.2l-1.6 2z" fill="#fff" fill-opacity="0.75"/>
<text x="504.7" y="465.0" fill="#e8eef4" font-size="8.1" textLength="63.7" lengthAdjust="spacing">, löschen falls Bu</text>
<rect x="570.5" y="458.3" width="7.5" height="8.8" rx="2" fill="#fff" fill-opacity="0.6"/>
<rect x="258.8" y="474.9" width="43.7" height="8.7" fill="#ffffa0" opacity="0.45"/>
<text x="259.8" y="482.5" fill="#000" font-size="8.5" textLength="41.7" lengthAdjust="spacingAndGlyphs">Kommentar</text>
<text x="259.8" y="498.4" fill="#e8eef4" font-size="8.1" textLength="27.1" lengthAdjust="spacing">steuere</text>
<rect x="288.0" y="492.0" width="25.5" height="8.5" rx="2.5" fill="#fff" fill-opacity="0.62"/>
<text x="289.8" y="498.7" fill="#262626" font-size="8.3" textLength="21.7" lengthAdjust="spacingAndGlyphs">speak</text>
<text x="321.8" y="498.4" fill="#e8eef4" font-size="8.1" text-anchor="middle">mit</text>
<rect x="337.5" y="491.3" width="41.0" height="9.6" rx="2.5" fill="#fff" fill-opacity="0.62"/>
<text x="339.3" y="499.1" fill="#262626" font-size="8.3" textLength="29.7" lengthAdjust="spacing">Antwort</text>
<path d="M372.4 495.5h3.2l-1.6 2z" fill="#fff" fill-opacity="0.75"/>
<text x="387.0" y="498.4" fill="#e8eef4" font-size="8.1" textLength="59.2" lengthAdjust="spacing">mit Verzögerung</text>
<rect x="445.8" y="491.7" width="7.9" height="8.8" rx="2" fill="#fff" fill-opacity="0.6"/>
<path d="M447.3 496.1l2 3l4 -6" stroke="#222" stroke-width="0.9" fill="none"/>
<rect x="460.8" y="491.7" width="8.7" height="8.8" rx="2.5" fill="#fff" fill-opacity="0.62"/>
<text x="465.1" y="498.7" fill="#262626" font-size="8.3" text-anchor="middle">2</text>
<rect x="475.3" y="491.7" width="26.3" height="8.8" rx="2.5" fill="#fff" fill-opacity="0.62"/>
<text x="485.1" y="498.7" fill="#262626" font-size="8.3" text-anchor="middle">Sek</text>
<path d="M495.5 495.5h3.2l-1.6 2z" fill="#fff" fill-opacity="0.75"/>
<text x="504.7" y="498.4" fill="#e8eef4" font-size="8.1" textLength="63.7" lengthAdjust="spacing">, löschen falls Bu</text>
<rect x="570.5" y="491.7" width="7.5" height="8.8" rx="2" fill="#fff" fill-opacity="0.6"/>
<rect x="258.8" y="508.3" width="43.7" height="8.5" fill="#ffffa0" opacity="0.45"/>
<text x="259.8" y="515.8" fill="#000" font-size="8.5" textLength="41.7" lengthAdjust="spacingAndGlyphs">Kommentar</text>
<text x="259.8" y="531.8" fill="#e8eef4" font-size="8.1" textLength="27.1" lengthAdjust="spacing">steuere</text>
<rect x="288.0" y="525.3" width="25.5" height="8.5" rx="2.5" fill="#fff" fill-opacity="0.62"/>
<text x="289.8" y="532.0" fill="#262626" font-size="8.3" textLength="21.7" lengthAdjust="spacingAndGlyphs">speak</text>
<text x="321.8" y="531.8" fill="#e8eef4" font-size="8.1" text-anchor="middle">mit</text>
<rect x="337.5" y="524.6" width="41.0" height="9.6" rx="2.5" fill="#fff" fill-opacity="0.62"/>
<text x="339.3" y="532.5" fill="#262626" font-size="8.3" textLength="29.7" lengthAdjust="spacing">Antwort</text>
<path d="M372.4 528.8h3.2l-1.6 2z" fill="#fff" fill-opacity="0.75"/>
<text x="387.0" y="531.8" fill="#e8eef4" font-size="8.1" textLength="59.2" lengthAdjust="spacing">mit Verzögerung</text>
<rect x="445.8" y="525.0" width="7.9" height="8.8" rx="2" fill="#fff" fill-opacity="0.6"/>
<path d="M447.3 529.4l2 3l4 -6" stroke="#222" stroke-width="0.9" fill="none"/>
<rect x="460.8" y="525.0" width="8.7" height="8.8" rx="2.5" fill="#fff" fill-opacity="0.62"/>
<text x="465.1" y="532.0" fill="#262626" font-size="8.3" text-anchor="middle">2</text>
<rect x="475.3" y="525.0" width="26.3" height="8.8" rx="2.5" fill="#fff" fill-opacity="0.62"/>
<text x="485.1" y="532.0" fill="#262626" font-size="8.3" text-anchor="middle">Sek</text>
<path d="M495.5 528.8h3.2l-1.6 2z" fill="#fff" fill-opacity="0.75"/>
<text x="504.7" y="531.8" fill="#e8eef4" font-size="8.1" textLength="63.7" lengthAdjust="spacing">, löschen falls Bu</text>
<rect x="570.5" y="525.0" width="7.5" height="8.8" rx="2" fill="#fff" fill-opacity="0.6"/>
<rect x="234.6" y="564.3" width="30.5" height="8.7" rx="2.5" fill="#fff" fill-opacity="0.62"/>
<text x="236.4" y="571.2" fill="#262626" font-size="8.3" textLength="18.8" lengthAdjust="spacing">Watt</text>
<path d="M259.0 568.0h3.2l-1.6 2z" fill="#fff" fill-opacity="0.75"/>
<rect x="271.4" y="564.2" width="18.6" height="9.3" rx="2.5" fill="#fff" fill-opacity="0.62"/>
<text x="273.2" y="571.7" fill="#262626" font-size="8.3" textLength="6.9" lengthAdjust="spacing">&lt;</text>
<path d="M283.9 568.2h3.2l-1.6 2z" fill="#fff" fill-opacity="0.75"/>
<rect x="298.4" y="564.3" width="10.3" height="8.7" rx="2.5" fill="#fff" fill-opacity="0.62"/>
<text x="303.4" y="571.2" fill="#262626" font-size="8.3" text-anchor="middle">4</text>
<text x="213.5" y="588.2" fill="#e8eef4" font-size="8.1" textLength="36.7" lengthAdjust="spacingAndGlyphs">Ausführen</text>
<rect x="251.5" y="581.3" width="129.5" height="8.3" rx="2.5" fill="#fff" fill-opacity="0.62"/>
<text x="253.3" y="587.8" fill="#262626" font-size="8.3" textLength="125.7" lengthAdjust="spacingAndGlyphs">Prüfe ob ende oder bescheit sagen</text>
<text x="381.0" y="588.2" fill="#e8eef4" font-size="8.1" textLength="5.0" lengthAdjust="spacingAndGlyphs">in</text>
<rect x="386.7" y="581.4" width="18.3" height="8.3" rx="2.5" fill="#fff" fill-opacity="0.62"/>
<text x="395.8" y="587.9" fill="#262626" font-size="8.3" text-anchor="middle">180</text>
<rect x="410.0" y="581.4" width="27.0" height="8.3" rx="2.5" fill="#fff" fill-opacity="0.62"/>
<text x="420.1" y="587.9" fill="#262626" font-size="8.3" text-anchor="middle">Sek</text>
<path d="M430.9 584.9h3.2l-1.6 2z" fill="#fff" fill-opacity="0.75"/>
<rect x="224.5" y="596.5" width="9" height="9" fill="#4040cc" rx="1.5"/>
<polygon points="232.14,601.64 231.86,602.43 230.72,602.52 230.27,602.92 230.02,604.03 229.20,604.19 228.54,603.25 227.98,603.06 226.88,603.40 226.33,602.77 226.82,601.73 226.70,601.14 225.86,600.36 226.14,599.57 227.28,599.48 227.73,599.08 227.98,597.97 228.80,597.81 229.46,598.75 230.02,598.94 231.12,598.60 231.67,599.23 231.18,600.27 231.30,600.86" fill="#fff"/>
<circle cx="229" cy="601" r="1.0" fill="#4040cc"/>
<text x="239.0" y="603.2" fill="#e8eef4" font-size="8.1" textLength="15.5" lengthAdjust="spacing">falls</text>
<text x="224.6" y="621.2" fill="#e8eef4" font-size="8.1" textLength="24.4" lengthAdjust="spacing">mache</text>
<text x="224.6" y="692.2" fill="#e8eef4" font-size="8.1" textLength="37.3" lengthAdjust="spacing">sonst falls</text>
<text x="224.6" y="732.5" fill="#e8eef4" font-size="8.1" textLength="24.4" lengthAdjust="spacing">mache</text>
<rect x="281.6" y="599.6" width="30.2" height="8.1" rx="2.5" fill="#fff" fill-opacity="0.62"/>
<text x="283.4" y="605.9" fill="#262626" font-size="8.3" textLength="18.9" lengthAdjust="spacing">Wert</text>
<path d="M305.7 603.1h3.2l-1.6 2z" fill="#fff" fill-opacity="0.75"/>
<text x="314.3" y="605.7" fill="#e8eef4" font-size="8.1" textLength="50.7" lengthAdjust="spacingAndGlyphs">vom Objekt ID</text>
<rect x="367.0" y="599.2" width="64.0" height="8.3" rx="2.5" fill="#fff" fill-opacity="0.62"/>
<text x="368.8" y="605.7" fill="#262626" font-size="8.3" textLength="60.2" lengthAdjust="spacingAndGlyphs">Wasch-summary</text>
<rect x="437.0" y="599.2" width="17.7" height="8.3" rx="2.5" fill="#fff" fill-opacity="0.62"/>
<text x="442.5" y="605.7" fill="#262626" font-size="10" font-weight="bold" text-anchor="middle">=</text>
<path d="M448.6 602.8h3.2l-1.6 2z" fill="#fff" fill-opacity="0.75"/>
<circle cx="468.1" cy="603.6" r="1.35" fill="#e8f8f0"/>
<path d="M466.8 603.6Q466.9 600.6 469.3 600.0" stroke="#e8f8f0" stroke-width="0.9" fill="none"/>
<circle cx="471.6" cy="603.6" r="1.35" fill="#e8f8f0"/>
<path d="M470.3 603.6Q470.4 600.6 472.8 600.0" stroke="#e8f8f0" stroke-width="0.9" fill="none"/>
<rect x="476.6" y="599.2" width="82.9" height="8.3" rx="2.5" fill="#fff" fill-opacity="0.62"/>
<text x="478.4" y="605.7" fill="#262626" font-size="8.3" textLength="79.1" lengthAdjust="spacingAndGlyphs">waschmaschine fertig</text>
<circle cx="561.7" cy="601.6" r="1.35" fill="#e8f8f0"/>
<path d="M563.0 601.6Q562.9 604.6 560.5 605.2" stroke="#e8f8f0" stroke-width="0.9" fill="none"/>
<circle cx="565.2" cy="601.6" r="1.35" fill="#e8f8f0"/>
<path d="M566.5 601.6Q566.4 604.6 564.0 605.2" stroke="#e8f8f0" stroke-width="0.9" fill="none"/>
<text x="259.8" y="625.2" fill="#e8eef4" font-size="8.1" textLength="26.9" lengthAdjust="spacingAndGlyphs">steuere</text>
<rect x="288.0" y="619.0" width="90.4" height="8.3" rx="2.5" fill="#fff" fill-opacity="0.62"/>
<text x="289.8" y="625.5" fill="#262626" font-size="8.3" textLength="86.6" lengthAdjust="spacingAndGlyphs">Waschmaschiene_fertig</text>
<text x="385.2" y="625.2" fill="#e8eef4" font-size="8.1" text-anchor="middle">mit</text>
<rect x="401.0" y="619.0" width="30.8" height="8.5" rx="2.5" fill="#fff" fill-opacity="0.62"/>
<text x="402.8" y="625.7" fill="#262626" font-size="8.3" textLength="19.5" lengthAdjust="spacing">wahr</text>
<path d="M425.7 622.6h3.2l-1.6 2z" fill="#fff" fill-opacity="0.75"/>
<text x="439.7" y="625.2" fill="#e8eef4" font-size="8.1" textLength="59.2" lengthAdjust="spacing">mit Verzögerung</text>
<rect x="499.5" y="619.0" width="7.3" height="8.5" rx="2" fill="#fff" fill-opacity="0.6"/>
<text x="259.8" y="644.7" fill="#e8eef4" font-size="8.1" textLength="26.9" lengthAdjust="spacingAndGlyphs">steuere</text>
<rect x="288.0" y="638.3" width="64.0" height="8.3" rx="2.5" fill="#fff" fill-opacity="0.62"/>
<text x="289.8" y="644.8" fill="#262626" font-size="8.3" textLength="60.2" lengthAdjust="spacingAndGlyphs">Wasch-summary</text>
<text x="360.1" y="644.7" fill="#e8eef4" font-size="8.1" text-anchor="middle">mit</text>
<circle cx="382.6" cy="643.1" r="1.35" fill="#e8f8f0"/>
<path d="M381.3 643.1Q381.4 640.1 383.8 639.5" stroke="#e8f8f0" stroke-width="0.9" fill="none"/>
<circle cx="386.1" cy="643.1" r="1.35" fill="#e8f8f0"/>
<path d="M384.8 643.1Q384.9 640.1 387.3 639.5" stroke="#e8f8f0" stroke-width="0.9" fill="none"/>
<rect x="389.0" y="638.3" width="23.0" height="8.3" rx="2.5" fill="#fff" fill-opacity="0.62"/>
<text x="390.8" y="644.8" fill="#262626" font-size="8.3" textLength="18.9" lengthAdjust="spacing">ende</text>
<circle cx="414.2" cy="641.1" r="1.35" fill="#e8f8f0"/>
<path d="M415.5 641.1Q415.4 644.1 413.0 644.7" stroke="#e8f8f0" stroke-width="0.9" fill="none"/>
<circle cx="417.7" cy="641.1" r="1.35" fill="#e8f8f0"/>
<path d="M419.0 641.1Q418.9 644.1 416.5 644.7" stroke="#e8f8f0" stroke-width="0.9" fill="none"/>
<text x="430.5" y="644.7" fill="#e8eef4" font-size="8.1" textLength="59.1" lengthAdjust="spacing">mit Verzögerung</text>
<rect x="489.0" y="638.3" width="8.0" height="8.3" rx="2" fill="#fff" fill-opacity="0.6"/>
<text x="259.8" y="662.2" fill="#e8eef4" font-size="8.1" textLength="15.5" lengthAdjust="spacing">stop</text>
<rect x="277.4" y="655.5" width="60.8" height="8.5" rx="2.5" fill="#fff" fill-opacity="0.62"/>
<text x="279.2" y="662.2" fill="#262626" font-size="8.3" textLength="50.5" lengthAdjust="spacing">Kurz Warten2</text>
<path d="M332.1 659.1h3.2l-1.6 2z" fill="#fff" fill-opacity="0.75"/>
<text x="259.8" y="676.7" fill="#e8eef4" font-size="8.1" textLength="15.5" lengthAdjust="spacing">stop</text>
<rect x="277.4" y="670.5" width="133.1" height="8.3" rx="2.5" fill="#fff" fill-opacity="0.62"/>
<text x="279.2" y="677.0" fill="#262626" font-size="8.3" textLength="129.3" lengthAdjust="spacing">Prüfe ob ende oder bescheit sagen</text>
<rect x="272.8" y="707.2" width="25.7" height="7.5" rx="2.5" fill="#fff" fill-opacity="0.62"/>
<text x="282.3" y="712.9" fill="#262626" font-size="8.3" text-anchor="middle">und</text>
<path d="M292.4 710.4h3.2l-1.6 2z" fill="#fff" fill-opacity="0.75"/>
<rect x="315.6" y="688.8" width="32.6" height="9.2" rx="2.5" fill="#fff" fill-opacity="0.62"/>
<text x="317.4" y="696.2" fill="#262626" font-size="8.3" textLength="20.1" lengthAdjust="spacing">Watt</text>
<path d="M342.1 692.8h3.2l-1.6 2z" fill="#fff" fill-opacity="0.75"/>
<rect x="354.5" y="688.9" width="17.5" height="8.8" rx="2.5" fill="#fff" fill-opacity="0.62"/>
<text x="356.3" y="695.9" fill="#262626" font-size="8.3" textLength="6.3" lengthAdjust="spacing">&lt;</text>
<path d="M365.9 692.7h3.2l-1.6 2z" fill="#fff" fill-opacity="0.75"/>
<rect x="380.9" y="688.8" width="11.3" height="9.2" rx="2.5" fill="#fff" fill-opacity="0.62"/>
<text x="386.4" y="696.2" fill="#262626" font-size="8.3" text-anchor="middle">4</text>
<rect x="318.6" y="709.0" width="30.1" height="8.8" rx="2.5" fill="#fff" fill-opacity="0.62"/>
<text x="320.4" y="716.0" fill="#262626" font-size="8.3" textLength="18.8" lengthAdjust="spacing">Wert</text>
<path d="M342.6 712.8h3.2l-1.6 2z" fill="#fff" fill-opacity="0.75"/>
<text x="352.0" y="715.7" fill="#e8eef4" font-size="8.1" textLength="48.0" lengthAdjust="spacingAndGlyphs">vom Objekt ID</text>
<rect x="401.3" y="708.9" width="93.0" height="9.3" rx="2.5" fill="#fff" fill-opacity="0.62"/>
<text x="403.1" y="716.4" fill="#262626" font-size="8.3" textLength="88.8" lengthAdjust="spacing">Waschmaschiene_fertig</text>
<rect x="496.8" y="709.0" width="18.8" height="9.0" rx="2.5" fill="#fff" fill-opacity="0.62"/>
<text x="502.9" y="716.2" fill="#262626" font-size="10" font-weight="bold" text-anchor="middle">=</text>
<path d="M509.5 712.9h3.2l-1.6 2z" fill="#fff" fill-opacity="0.75"/>
<rect x="525.2" y="709.0" width="33.6" height="9.0" rx="2.5" fill="#fff" fill-opacity="0.62"/>
<text x="527.0" y="716.2" fill="#262626" font-size="8.3" textLength="22.7" lengthAdjust="spacing">falsch</text>
<path d="M552.7 712.9h3.2l-1.6 2z" fill="#fff" fill-opacity="0.75"/>
<text x="259.8" y="733.2" fill="#e8eef4" font-size="8.1" textLength="25.1" lengthAdjust="spacingAndGlyphs">erhöhe</text>
<rect x="285.9" y="726.6" width="51.8" height="8.2" rx="2.5" fill="#fff" fill-opacity="0.62"/>
<text x="287.7" y="733.0" fill="#262626" font-size="8.3" textLength="41.3" lengthAdjust="spacing">xte-ansage</text>
<path d="M331.6 730.1h3.2l-1.6 2z" fill="#fff" fill-opacity="0.75"/>
<text x="345.7" y="733.2" fill="#e8eef4" font-size="8.1" text-anchor="middle">um</text>
<rect x="363.8" y="726.8" width="9.0" height="7.5" rx="2.5" fill="#fff" fill-opacity="0.62"/>
<text x="368.2" y="732.5" fill="#262626" font-size="8.3" text-anchor="middle">1</text>
<text x="259.8" y="748.7" fill="#e8eef4" font-size="8.1" textLength="26.9" lengthAdjust="spacingAndGlyphs">steuere</text>
<rect x="288.0" y="743.4" width="103.0" height="8.3" rx="2.5" fill="#fff" fill-opacity="0.62"/>
<text x="289.8" y="749.9" fill="#262626" font-size="8.3" textLength="99.2" lengthAdjust="spacingAndGlyphs">Waschmaschiene_End_KW</text>
<text x="398.0" y="748.7" fill="#e8eef4" font-size="8.1" text-anchor="middle">mit</text>
<rect x="415.0" y="742.8" width="30.8" height="8.8" rx="2.5" fill="#fff" fill-opacity="0.62"/>
<text x="416.8" y="749.8" fill="#262626" font-size="8.3" textLength="19.2" lengthAdjust="spacing">Wert</text>
<path d="M439.7 746.6h3.2l-1.6 2z" fill="#fff" fill-opacity="0.75"/>
<text x="448.3" y="749.2" fill="#e8eef4" font-size="8.1" textLength="50.7" lengthAdjust="spacingAndGlyphs">vom Objekt ID</text>
<rect x="500.5" y="742.8" width="125.3" height="8.8" rx="2.5" fill="#fff" fill-opacity="0.62"/>
<text x="502.3" y="749.8" fill="#262626" font-size="8.3" textLength="121.5" lengthAdjust="spacingAndGlyphs">Waschmaschiene ENERGY  Total</text>
<text x="629.0" y="749.2" fill="#e8eef4" font-size="8.1" textLength="59.4" lengthAdjust="spacing">mit Verzögerung</text>
<rect x="688.7" y="742.8" width="6.3" height="8.8" rx="2" fill="#fff" fill-opacity="0.6"/>
<text x="259.8" y="766.7" fill="#e8eef4" font-size="8.1" textLength="19.9" lengthAdjust="spacing">setze</text>
<rect x="281.6" y="760.5" width="70.4" height="8.0" rx="2.5" fill="#fff" fill-opacity="0.62"/>
<text x="283.4" y="766.7" fill="#262626" font-size="8.3" textLength="60.1" lengthAdjust="spacingAndGlyphs">VerbrauchteWatt</text>
<path d="M345.9 763.9h3.2l-1.6 2z" fill="#fff" fill-opacity="0.75"/>
<text x="361.1" y="766.7" fill="#e8eef4" font-size="8.1" text-anchor="middle">auf</text>
<rect x="386.7" y="762.9" width="30.3" height="8.8" rx="2.5" fill="#fff" fill-opacity="0.62"/>
<text x="388.5" y="769.9" fill="#262626" font-size="8.3" textLength="18.9" lengthAdjust="spacing">Wert</text>
<path d="M410.9 766.7h3.2l-1.6 2z" fill="#fff" fill-opacity="0.75"/>
<text x="419.6" y="769.5" fill="#e8eef4" font-size="8.1" textLength="49.4" lengthAdjust="spacingAndGlyphs">vom Objekt ID</text>
<rect x="470.0" y="763.0" width="106.0" height="9.0" rx="2.5" fill="#fff" fill-opacity="0.62"/>
<text x="471.8" y="770.2" fill="#262626" font-size="8.3" textLength="102.2" lengthAdjust="spacingAndGlyphs">Waschmaschiene_End_KW</text>
<rect x="579.6" y="764.0" width="16.1" height="8.0" rx="2.5" fill="#fff" fill-opacity="0.62"/>
<text x="584.3" y="770.2" fill="#262626" font-size="10" font-weight="bold" text-anchor="middle">-</text>
<path d="M589.6 767.4h3.2l-1.6 2z" fill="#fff" fill-opacity="0.75"/>
<rect x="605.4" y="763.0" width="30.0" height="9.0" rx="2.5" fill="#fff" fill-opacity="0.62"/>
<text x="607.2" y="770.2" fill="#262626" font-size="8.3" textLength="18.8" lengthAdjust="spacing">Wert</text>
<path d="M629.3 766.9h3.2l-1.6 2z" fill="#fff" fill-opacity="0.75"/>
<text x="639.6" y="769.5" fill="#e8eef4" font-size="8.1" textLength="47.4" lengthAdjust="spacingAndGlyphs">vom Objekt ID</text>
<rect x="688.7" y="763.0" width="122.1" height="9.0" rx="2.5" fill="#fff" fill-opacity="0.62"/>
<text x="690.5" y="770.2" fill="#262626" font-size="8.3" textLength="118.3" lengthAdjust="spacing">Waschmaschiene_Anfangs_KW</text>
<text x="259.8" y="789.7" fill="#e8eef4" font-size="8.1" textLength="26.9" lengthAdjust="spacingAndGlyphs">steuere</text>
<rect x="288.0" y="783.0" width="126.6" height="9.0" rx="2.5" fill="#fff" fill-opacity="0.62"/>
<text x="289.8" y="790.2" fill="#262626" font-size="8.3" textLength="122.8" lengthAdjust="spacingAndGlyphs">Waschmaschiene_Verbrauch_KW</text>
<text x="420.1" y="789.7" fill="#e8eef4" font-size="8.1" text-anchor="middle">mit</text>
<rect x="434.9" y="782.8" width="71.5" height="9.8" rx="2.5" fill="#fff" fill-opacity="0.62"/>
<text x="436.7" y="790.8" fill="#262626" font-size="8.3" textLength="61.2" lengthAdjust="spacingAndGlyphs">VerbrauchteWatt</text>
<path d="M500.3 787.1h3.2l-1.6 2z" fill="#fff" fill-opacity="0.75"/>
<text x="515.7" y="789.7" fill="#e8eef4" font-size="8.1" textLength="60.0" lengthAdjust="spacing">mit Verzögerung</text>
<rect x="576.0" y="783.0" width="7.0" height="9.0" rx="2" fill="#fff" fill-opacity="0.6"/>
<text x="259.8" y="807.2" fill="#e8eef4" font-size="8.1" textLength="19.9" lengthAdjust="spacing">setze</text>
<rect x="281.6" y="800.2" width="37.0" height="8.8" rx="2.5" fill="#fff" fill-opacity="0.62"/>
<text x="283.4" y="807.2" fill="#262626" font-size="8.3" textLength="26.4" lengthAdjust="spacing">Kosten</text>
<path d="M312.5 804.0h3.2l-1.6 2z" fill="#fff" fill-opacity="0.75"/>
<text x="327.7" y="807.2" fill="#e8eef4" font-size="8.1" text-anchor="middle">auf</text>
<text x="347.8" y="809.4" fill="#e8eef4" font-size="8.1" textLength="23.2" lengthAdjust="spacingAndGlyphs">Runde</text>
<rect x="391.5" y="806.7" width="70.5" height="8.6" rx="2.5" fill="#fff" fill-opacity="0.62"/>
<text x="393.3" y="813.5" fill="#262626" font-size="8.3" textLength="60.2" lengthAdjust="spacingAndGlyphs">VerbrauchteWatt</text>
<path d="M455.9 810.4h3.2l-1.6 2z" fill="#fff" fill-opacity="0.75"/>
<rect x="467.5" y="806.0" width="18.1" height="7.8" rx="2.5" fill="#fff" fill-opacity="0.62"/>
<text x="473.2" y="812.0" fill="#262626" font-size="8.3" text-anchor="middle">x</text>
<path d="M479.5 809.3h3.2l-1.6 2z" fill="#fff" fill-opacity="0.75"/>
<rect x="494.0" y="805.2" width="18.6" height="11.3" rx="2.5" fill="#fff" fill-opacity="0.62"/>
<text x="503.2" y="814.7" fill="#262626" font-size="8.3" text-anchor="middle">0.3</text>
<text x="525.0" y="809.2" fill="#e8eef4" font-size="8.1" textLength="10.5" lengthAdjust="spacingAndGlyphs">auf</text>
<rect x="539.0" y="803.5" width="7.8" height="7.1" rx="2.5" fill="#fff" fill-opacity="0.62"/>
<text x="540.8" y="808.8" fill="#262626" font-size="8.3" textLength="4.0" lengthAdjust="spacingAndGlyphs">2</text>
<text x="550.0" y="809.2" fill="#e8eef4" font-size="8.1" textLength="69.5" lengthAdjust="spacing">Nachkommastellen</text>
<text x="259.8" y="832.5" fill="#e8eef4" font-size="8.1" textLength="19.9" lengthAdjust="spacing">setze</text>
<rect x="281.6" y="826.5" width="39.0" height="8.3" rx="2.5" fill="#fff" fill-opacity="0.62"/>
<text x="283.4" y="833.0" fill="#262626" font-size="8.3" textLength="28.5" lengthAdjust="spacing">Antwort</text>
<path d="M314.5 830.0h3.2l-1.6 2z" fill="#fff" fill-opacity="0.75"/>
<text x="324.3" y="832.5" fill="#e8eef4" font-size="8.1" textLength="10.9" lengthAdjust="spacingAndGlyphs">auf</text>
<rect x="349.5" y="826.1" width="9" height="9" fill="#4040cc" rx="1.5"/>
<polygon points="357.14,831.24 356.86,832.03 355.72,832.12 355.27,832.52 355.02,833.63 354.20,833.79 353.54,832.85 352.98,832.66 351.88,833.00 351.33,832.37 351.82,831.33 351.70,830.74 350.86,829.96 351.14,829.17 352.28,829.08 352.73,828.68 352.98,827.57 353.80,827.41 354.46,828.35 355.02,828.54 356.12,828.20 356.67,828.83 356.18,829.87 356.30,830.46" fill="#fff"/>
<circle cx="354" cy="830.6" r="1.0" fill="#4040cc"/>
<text x="363.3" y="832.2" fill="#e8eef4" font-size="8.1" textLength="59.3" lengthAdjust="spacing">erstelle Text aus</text>
<rect x="433.5" y="825.5" width="9" height="9" fill="#4040cc" rx="1.5"/>
<polygon points="441.14,830.59 440.86,831.38 439.72,831.47 439.27,831.87 439.02,832.98 438.20,833.14 437.54,832.20 436.98,832.01 435.88,832.35 435.33,831.72 435.82,830.68 435.70,830.09 434.86,829.31 435.14,828.52 436.28,828.43 436.73,828.03 436.98,826.92 437.80,826.76 438.46,827.70 439.02,827.89 440.12,827.55 440.67,828.18 440.18,829.22 440.30,829.81" fill="#fff"/>
<circle cx="438" cy="829.95" r="1.0" fill="#4040cc"/>
<text x="447.0" y="832.2" fill="#e8eef4" font-size="8.1" textLength="60.3" lengthAdjust="spacing">erstelle Text aus</text>
<rect x="511.5" y="825.3" width="0.9" height="9.3" fill="#9fd0bf" opacity="0.8"/>
<circle cx="519.7" cy="830.6" r="1.35" fill="#e8f8f0"/>
<path d="M518.4 830.6Q518.5 827.6 520.9 827.0" stroke="#e8f8f0" stroke-width="0.9" fill="none"/>
<circle cx="523.2" cy="830.6" r="1.35" fill="#e8f8f0"/>
<path d="M521.9 830.6Q522.0 827.6 524.4 827.0" stroke="#e8f8f0" stroke-width="0.9" fill="none"/>
<rect x="528.4" y="825.7" width="89.6" height="8.6" rx="2.5" fill="#fff" fill-opacity="0.62"/>
<text x="530.2" y="832.5" fill="#262626" font-size="8.3" textLength="85.8" lengthAdjust="spacingAndGlyphs">Waschmaschiene Fertig</text>
<circle cx="620.2" cy="828.6" r="1.35" fill="#e8f8f0"/>
<path d="M621.5 828.6Q621.4 831.6 619.0 832.2" stroke="#e8f8f0" stroke-width="0.9" fill="none"/>
<circle cx="623.7" cy="828.6" r="1.35" fill="#e8f8f0"/>
<path d="M625.0 828.6Q624.9 831.6 622.5 832.2" stroke="#e8f8f0" stroke-width="0.9" fill="none"/>
<rect x="433.5" y="839.3" width="9" height="9" fill="#4040cc" rx="1.5"/>
<polygon points="441.14,844.44 440.86,845.23 439.72,845.32 439.27,845.72 439.02,846.83 438.20,846.99 437.54,846.05 436.98,845.86 435.88,846.20 435.33,845.57 435.82,844.53 435.70,843.94 434.86,843.16 435.14,842.37 436.28,842.28 436.73,841.88 436.98,840.77 437.80,840.61 438.46,841.55 439.02,841.74 440.12,841.40 440.67,842.03 440.18,843.07 440.30,843.66" fill="#fff"/>
<circle cx="438" cy="843.8" r="1.0" fill="#4040cc"/>
<text x="447.0" y="846.0" fill="#e8eef4" font-size="8.1" textLength="60.3" lengthAdjust="spacing">erstelle Text aus</text>
<rect x="511.5" y="838.6" width="0.9" height="10.4" fill="#9fd0bf" opacity="0.8"/>
<circle cx="519.7" cy="844.4" r="1.35" fill="#e8f8f0"/>
<path d="M518.4 844.4Q518.5 841.4 520.9 840.8" stroke="#e8f8f0" stroke-width="0.9" fill="none"/>
<circle cx="523.2" cy="844.4" r="1.35" fill="#e8f8f0"/>
<path d="M521.9 844.4Q522.0 841.4 524.4 840.8" stroke="#e8f8f0" stroke-width="0.9" fill="none"/>
<rect x="528.4" y="839.5" width="75.6" height="8.6" rx="2.5" fill="#fff" fill-opacity="0.62"/>
<text x="530.2" y="846.3" fill="#262626" font-size="8.3" textLength="71.8" lengthAdjust="spacingAndGlyphs">Der Waschgang hat</text>
<circle cx="606.2" cy="842.4" r="1.35" fill="#e8f8f0"/>
<path d="M607.5 842.4Q607.4 845.4 605.0 846.0" stroke="#e8f8f0" stroke-width="0.9" fill="none"/>
<circle cx="609.7" cy="842.4" r="1.35" fill="#e8f8f0"/>
<path d="M611.0 842.4Q610.9 845.4 608.5 846.0" stroke="#e8f8f0" stroke-width="0.9" fill="none"/>
<rect x="431.5" y="854.0" width="37.0" height="8.8" rx="2.5" fill="#fff" fill-opacity="0.62"/>
<text x="433.3" y="861.0" fill="#262626" font-size="8.3" textLength="26.4" lengthAdjust="spacing">Kosten</text>
<path d="M462.4 857.8h3.2l-1.6 2z" fill="#fff" fill-opacity="0.75"/>
<rect x="433.5" y="868.6" width="9" height="9" fill="#4040cc" rx="1.5"/>
<polygon points="441.14,873.74 440.86,874.53 439.72,874.62 439.27,875.02 439.02,876.13 438.20,876.29 437.54,875.35 436.98,875.16 435.88,875.50 435.33,874.87 435.82,873.83 435.70,873.24 434.86,872.46 435.14,871.67 436.28,871.58 436.73,871.18 436.98,870.07 437.80,869.91 438.46,870.85 439.02,871.04 440.12,870.70 440.67,871.33 440.18,872.37 440.30,872.96" fill="#fff"/>
<circle cx="438" cy="873.1" r="1.0" fill="#4040cc"/>
<text x="447.0" y="875.3" fill="#e8eef4" font-size="8.1" textLength="60.3" lengthAdjust="spacing">erstelle Text aus</text>
<rect x="511.5" y="868.5" width="0.9" height="9.2" fill="#9fd0bf" opacity="0.8"/>
<circle cx="519.7" cy="873.7" r="1.35" fill="#e8f8f0"/>
<path d="M518.4 873.7Q518.5 870.7 520.9 870.1" stroke="#e8f8f0" stroke-width="0.9" fill="none"/>
<circle cx="523.2" cy="873.7" r="1.35" fill="#e8f8f0"/>
<path d="M521.9 873.7Q522.0 870.7 524.4 870.1" stroke="#e8f8f0" stroke-width="0.9" fill="none"/>
<rect x="528.4" y="868.8" width="52.6" height="8.6" rx="2.5" fill="#fff" fill-opacity="0.62"/>
<text x="530.2" y="875.6" fill="#262626" font-size="8.3" textLength="48.8" lengthAdjust="spacingAndGlyphs">Euro gekostet</text>
<circle cx="583.2" cy="871.7" r="1.35" fill="#e8f8f0"/>
<path d="M584.5 871.7Q584.4 874.7 582.0 875.3" stroke="#e8f8f0" stroke-width="0.9" fill="none"/>
<circle cx="586.7" cy="871.7" r="1.35" fill="#e8f8f0"/>
<path d="M588.0 871.7Q587.9 874.7 585.5 875.3" stroke="#e8f8f0" stroke-width="0.9" fill="none"/>
<rect x="257.6" y="882.5" width="44.6" height="8.8" fill="#ffffa0" opacity="0.45"/>
<text x="258.6" y="890.1" fill="#000" font-size="8.5" textLength="42.6" lengthAdjust="spacingAndGlyphs">Kommentar</text>
<text x="259.8" y="906.1" fill="#e8eef4" font-size="8.1" textLength="27.1" lengthAdjust="spacing">steuere</text>
<rect x="288.0" y="899.7" width="25.5" height="8.5" rx="2.5" fill="#fff" fill-opacity="0.62"/>
<text x="289.8" y="906.4" fill="#262626" font-size="8.3" textLength="21.7" lengthAdjust="spacingAndGlyphs">speak</text>
<text x="321.8" y="906.1" fill="#e8eef4" font-size="8.1" text-anchor="middle">mit</text>
<rect x="337.5" y="899.0" width="41.0" height="9.6" rx="2.5" fill="#fff" fill-opacity="0.62"/>
<text x="339.3" y="906.8" fill="#262626" font-size="8.3" textLength="29.7" lengthAdjust="spacing">Antwort</text>
<path d="M372.4 903.2h3.2l-1.6 2z" fill="#fff" fill-opacity="0.75"/>
<text x="387.0" y="906.1" fill="#e8eef4" font-size="8.1" textLength="59.2" lengthAdjust="spacing">mit Verzögerung</text>
<rect x="446.0" y="899.4" width="7.0" height="8.8" rx="2" fill="#fff" fill-opacity="0.6"/>
<rect x="257.6" y="916.0" width="44.6" height="9.5" fill="#ffffa0" opacity="0.45"/>
<text x="258.6" y="924.0" fill="#000" font-size="8.5" textLength="42.6" lengthAdjust="spacingAndGlyphs">Kommentar</text>
<text x="259.8" y="940.4" fill="#e8eef4" font-size="8.1" textLength="27.1" lengthAdjust="spacing">steuere</text>
<rect x="288.0" y="933.9" width="25.5" height="8.5" rx="2.5" fill="#fff" fill-opacity="0.62"/>
<text x="289.8" y="940.6" fill="#262626" font-size="8.3" textLength="21.7" lengthAdjust="spacingAndGlyphs">speak</text>
<text x="321.8" y="940.4" fill="#e8eef4" font-size="8.1" text-anchor="middle">mit</text>
<rect x="337.5" y="933.2" width="41.0" height="9.6" rx="2.5" fill="#fff" fill-opacity="0.62"/>
<text x="339.3" y="941.1" fill="#262626" font-size="8.3" textLength="29.7" lengthAdjust="spacing">Antwort</text>
<path d="M372.4 937.4h3.2l-1.6 2z" fill="#fff" fill-opacity="0.75"/>
<text x="387.0" y="940.4" fill="#e8eef4" font-size="8.1" textLength="59.2" lengthAdjust="spacing">mit Verzögerung</text>
<rect x="446.0" y="933.6" width="7.0" height="8.8" rx="2" fill="#fff" fill-opacity="0.6"/>
<rect x="257.6" y="950.3" width="44.6" height="9.4" fill="#ffffa0" opacity="0.45"/>
<text x="258.6" y="958.2" fill="#000" font-size="8.5" textLength="42.6" lengthAdjust="spacingAndGlyphs">Kommentar</text>
<text x="259.8" y="975.1" fill="#e8eef4" font-size="8.1" textLength="27.1" lengthAdjust="spacing">steuere</text>
<rect x="288.0" y="968.6" width="25.5" height="8.5" rx="2.5" fill="#fff" fill-opacity="0.62"/>
<text x="289.8" y="975.4" fill="#262626" font-size="8.3" textLength="21.7" lengthAdjust="spacingAndGlyphs">speak</text>
<text x="321.8" y="975.1" fill="#e8eef4" font-size="8.1" text-anchor="middle">mit</text>
<rect x="337.5" y="967.9" width="41.0" height="9.6" rx="2.5" fill="#fff" fill-opacity="0.62"/>
<text x="339.3" y="975.8" fill="#262626" font-size="8.3" textLength="29.7" lengthAdjust="spacing">Antwort</text>
<path d="M372.4 972.1h3.2l-1.6 2z" fill="#fff" fill-opacity="0.75"/>
<text x="387.0" y="975.1" fill="#e8eef4" font-size="8.1" textLength="59.2" lengthAdjust="spacing">mit Verzögerung</text>
<rect x="446.0" y="968.4" width="7.0" height="8.8" rx="2" fill="#fff" fill-opacity="0.6"/>
<text x="259.8" y="992.4" fill="#e8eef4" font-size="8.1" textLength="15.5" lengthAdjust="spacing">stop</text>
<rect x="276.6" y="986.0" width="132.8" height="9.0" rx="2.5" fill="#fff" fill-opacity="0.62"/>
<text x="278.4" y="993.2" fill="#262626" font-size="8.3" textLength="129.0" lengthAdjust="spacingAndGlyphs">Prüfe ob ende oder bescheit sagen</text>
<text x="259.8" y="1006.2" fill="#e8eef4" font-size="8.1" textLength="15.5" lengthAdjust="spacing">stop</text>
<rect x="276.6" y="1000.0" width="61.0" height="8.5" rx="2.5" fill="#fff" fill-opacity="0.62"/>
<text x="278.4" y="1006.7" fill="#262626" font-size="8.3" textLength="50.6" lengthAdjust="spacing">Kurz Warten2</text>
<path d="M331.5 1003.6h3.2l-1.6 2z" fill="#fff" fill-opacity="0.75"/>
<rect width="836" height="21" fill="#fafafa"/>
<rect y="21" width="836" height="1" fill="#dcdcdc"/>
</svg>
</body></html>
